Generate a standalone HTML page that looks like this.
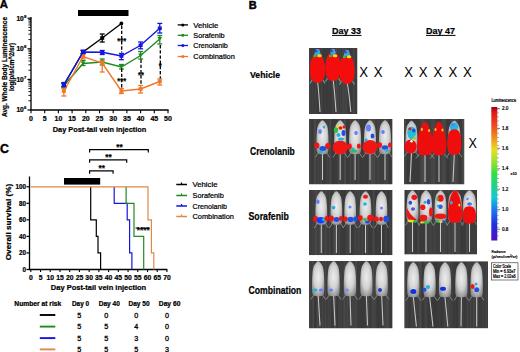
<!DOCTYPE html>
<html><head><meta charset="utf-8"><style>
html,body{margin:0;padding:0;background:#fff;}
svg{display:block;font-family:"Liberation Sans", sans-serif;}
</style></head><body>
<svg width="520" height="352" viewBox="0 0 520 352">
<text x="-0.3" y="8.2" font-size="11.3" font-weight="bold" text-anchor="start" fill="#000" stroke="#000" stroke-width="0.4" >A</text>
<line x1="31" y1="17" x2="31" y2="110" stroke="#000" stroke-width="1.3" />
<line x1="30.4" y1="110" x2="168.6" y2="110" stroke="#000" stroke-width="1.3" />
<line x1="27.5" y1="110.0" x2="31" y2="110.0" stroke="#000" stroke-width="1.2" />
<text x="23.8" y="112.4" font-size="6.6" font-weight="bold" text-anchor="end" fill="#000" stroke="#000" stroke-width="0.22" textLength="7.4" lengthAdjust="spacingAndGlyphs" >10</text>
<text x="24" y="109.4" font-size="4.2" font-weight="bold" text-anchor="start" fill="#000" stroke="#000" stroke-width="0.22" >6</text>
<line x1="28.4" y1="100.78848213268218" x2="31" y2="100.78848213268218" stroke="#000" stroke-width="0.9" />
<line x1="28.4" y1="95.40008960557833" x2="31" y2="95.40008960557833" stroke="#000" stroke-width="0.9" />
<line x1="28.4" y1="91.57696426536435" x2="31" y2="91.57696426536435" stroke="#000" stroke-width="0.9" />
<line x1="28.4" y1="88.61151786731783" x2="31" y2="88.61151786731783" stroke="#000" stroke-width="0.9" />
<line x1="28.4" y1="86.18857173826049" x2="31" y2="86.18857173826049" stroke="#000" stroke-width="0.9" />
<line x1="28.4" y1="84.13999997556374" x2="31" y2="84.13999997556374" stroke="#000" stroke-width="0.9" />
<line x1="28.4" y1="82.36544639804652" x2="31" y2="82.36544639804652" stroke="#000" stroke-width="0.9" />
<line x1="28.4" y1="80.80017921115665" x2="31" y2="80.80017921115665" stroke="#000" stroke-width="0.9" />
<line x1="27.5" y1="79.4" x2="31" y2="79.4" stroke="#000" stroke-width="1.2" />
<text x="23.8" y="81.80000000000001" font-size="6.6" font-weight="bold" text-anchor="end" fill="#000" stroke="#000" stroke-width="0.22" textLength="7.4" lengthAdjust="spacingAndGlyphs" >10</text>
<text x="24" y="78.80000000000001" font-size="4.2" font-weight="bold" text-anchor="start" fill="#000" stroke="#000" stroke-width="0.22" >7</text>
<line x1="28.4" y1="70.18848213268217" x2="31" y2="70.18848213268217" stroke="#000" stroke-width="0.9" />
<line x1="28.4" y1="64.80008960557832" x2="31" y2="64.80008960557832" stroke="#000" stroke-width="0.9" />
<line x1="28.4" y1="60.976964265364344" x2="31" y2="60.976964265364344" stroke="#000" stroke-width="0.9" />
<line x1="28.4" y1="58.01151786731782" x2="31" y2="58.01151786731782" stroke="#000" stroke-width="0.9" />
<line x1="28.4" y1="55.5885717382605" x2="31" y2="55.5885717382605" stroke="#000" stroke-width="0.9" />
<line x1="28.4" y1="53.53999997556374" x2="31" y2="53.53999997556374" stroke="#000" stroke-width="0.9" />
<line x1="28.4" y1="51.76544639804652" x2="31" y2="51.76544639804652" stroke="#000" stroke-width="0.9" />
<line x1="28.4" y1="50.200179211156644" x2="31" y2="50.200179211156644" stroke="#000" stroke-width="0.9" />
<line x1="27.5" y1="48.8" x2="31" y2="48.8" stroke="#000" stroke-width="1.2" />
<text x="23.8" y="51.199999999999996" font-size="6.6" font-weight="bold" text-anchor="end" fill="#000" stroke="#000" stroke-width="0.22" textLength="7.4" lengthAdjust="spacingAndGlyphs" >10</text>
<text x="24" y="48.199999999999996" font-size="4.2" font-weight="bold" text-anchor="start" fill="#000" stroke="#000" stroke-width="0.22" >8</text>
<line x1="28.4" y1="39.588482132682174" x2="31" y2="39.588482132682174" stroke="#000" stroke-width="0.9" />
<line x1="28.4" y1="34.20008960557833" x2="31" y2="34.20008960557833" stroke="#000" stroke-width="0.9" />
<line x1="28.4" y1="30.37696426536435" x2="31" y2="30.37696426536435" stroke="#000" stroke-width="0.9" />
<line x1="28.4" y1="27.411517867317826" x2="31" y2="27.411517867317826" stroke="#000" stroke-width="0.9" />
<line x1="28.4" y1="24.98857173826049" x2="31" y2="24.98857173826049" stroke="#000" stroke-width="0.9" />
<line x1="28.4" y1="22.939999975563737" x2="31" y2="22.939999975563737" stroke="#000" stroke-width="0.9" />
<line x1="28.4" y1="21.165446398046512" x2="31" y2="21.165446398046512" stroke="#000" stroke-width="0.9" />
<line x1="28.4" y1="19.600179211156643" x2="31" y2="19.600179211156643" stroke="#000" stroke-width="0.9" />
<line x1="27.5" y1="18.19999999999999" x2="31" y2="18.19999999999999" stroke="#000" stroke-width="1.2" />
<text x="23.8" y="20.599999999999987" font-size="6.6" font-weight="bold" text-anchor="end" fill="#000" stroke="#000" stroke-width="0.22" textLength="7.4" lengthAdjust="spacingAndGlyphs" >10</text>
<text x="24" y="17.599999999999987" font-size="4.2" font-weight="bold" text-anchor="start" fill="#000" stroke="#000" stroke-width="0.22" >9</text>
<line x1="31.0" y1="110" x2="31.0" y2="113.3" stroke="#000" stroke-width="1.1" />
<text x="31.0" y="120.6" font-size="7" font-weight="bold" text-anchor="middle" fill="#000" stroke="#000" stroke-width="0.22" >0</text>
<line x1="44.7" y1="110" x2="44.7" y2="113.3" stroke="#000" stroke-width="1.1" />
<text x="44.7" y="120.6" font-size="7" font-weight="bold" text-anchor="middle" fill="#000" stroke="#000" stroke-width="0.22" >5</text>
<line x1="58.400000000000006" y1="110" x2="58.400000000000006" y2="113.3" stroke="#000" stroke-width="1.1" />
<text x="58.400000000000006" y="120.6" font-size="7" font-weight="bold" text-anchor="middle" fill="#000" stroke="#000" stroke-width="0.22" >10</text>
<line x1="72.1" y1="110" x2="72.1" y2="113.3" stroke="#000" stroke-width="1.1" />
<text x="72.1" y="120.6" font-size="7" font-weight="bold" text-anchor="middle" fill="#000" stroke="#000" stroke-width="0.22" >15</text>
<line x1="85.80000000000001" y1="110" x2="85.80000000000001" y2="113.3" stroke="#000" stroke-width="1.1" />
<text x="85.80000000000001" y="120.6" font-size="7" font-weight="bold" text-anchor="middle" fill="#000" stroke="#000" stroke-width="0.22" >20</text>
<line x1="99.5" y1="110" x2="99.5" y2="113.3" stroke="#000" stroke-width="1.1" />
<text x="99.5" y="120.6" font-size="7" font-weight="bold" text-anchor="middle" fill="#000" stroke="#000" stroke-width="0.22" >25</text>
<line x1="113.2" y1="110" x2="113.2" y2="113.3" stroke="#000" stroke-width="1.1" />
<text x="113.2" y="120.6" font-size="7" font-weight="bold" text-anchor="middle" fill="#000" stroke="#000" stroke-width="0.22" >30</text>
<line x1="126.9" y1="110" x2="126.9" y2="113.3" stroke="#000" stroke-width="1.1" />
<text x="126.9" y="120.6" font-size="7" font-weight="bold" text-anchor="middle" fill="#000" stroke="#000" stroke-width="0.22" >35</text>
<line x1="140.60000000000002" y1="110" x2="140.60000000000002" y2="113.3" stroke="#000" stroke-width="1.1" />
<text x="140.60000000000002" y="120.6" font-size="7" font-weight="bold" text-anchor="middle" fill="#000" stroke="#000" stroke-width="0.22" >40</text>
<line x1="154.3" y1="110" x2="154.3" y2="113.3" stroke="#000" stroke-width="1.1" />
<text x="154.3" y="120.6" font-size="7" font-weight="bold" text-anchor="middle" fill="#000" stroke="#000" stroke-width="0.22" >45</text>
<line x1="168.0" y1="110" x2="168.0" y2="113.3" stroke="#000" stroke-width="1.1" />
<text x="168.0" y="120.6" font-size="7" font-weight="bold" text-anchor="middle" fill="#000" stroke="#000" stroke-width="0.22" >50</text>
<text x="99.5" y="132" font-size="7.8" font-weight="bold" text-anchor="middle" fill="#000" stroke="#000" stroke-width="0.22" textLength="93.5" lengthAdjust="spacingAndGlyphs" >Day Post-tail vein injection</text>
<g transform="translate(6.8,67) rotate(-90)">
<text x="0" y="0" font-size="6.5" font-weight="bold" text-anchor="middle" fill="#000" stroke="#000" stroke-width="0.22" textLength="100" lengthAdjust="spacingAndGlyphs" >Avg. Whole Body Luminescence</text>
<text x="0" y="7" font-size="6.5" font-weight="bold" text-anchor="middle" fill="#000" stroke="#000" stroke-width="0.22" textLength="48" lengthAdjust="spacingAndGlyphs" >log(p/s/cm^2/sr)</text>
</g>
<rect x="78" y="10" width="50.5" height="6" fill="#000" />
<path d="M63.9,85.0 L83.1,52.0 L102.2,38.0 L121.4,23.5" fill="none" stroke="#000" stroke-width="1.4"/>
<line x1="63.88" y1="83" x2="63.88" y2="87" stroke="#000" stroke-width="1.3" />
<line x1="61.38" y1="83" x2="66.38" y2="83" stroke="#000" stroke-width="1.3" />
<line x1="61.38" y1="87" x2="66.38" y2="87" stroke="#000" stroke-width="1.3" />
<rect x="61.88" y="83.2" width="4" height="3.6" fill="#000"/>
<line x1="83.06" y1="50.5" x2="83.06" y2="53.5" stroke="#000" stroke-width="1.3" />
<line x1="80.56" y1="50.5" x2="85.56" y2="50.5" stroke="#000" stroke-width="1.3" />
<line x1="80.56" y1="53.5" x2="85.56" y2="53.5" stroke="#000" stroke-width="1.3" />
<rect x="81.06" y="50.2" width="4" height="3.6" fill="#000"/>
<line x1="102.24000000000001" y1="34" x2="102.24000000000001" y2="42" stroke="#000" stroke-width="1.3" />
<line x1="99.74000000000001" y1="34" x2="104.74000000000001" y2="34" stroke="#000" stroke-width="1.3" />
<line x1="99.74000000000001" y1="42" x2="104.74000000000001" y2="42" stroke="#000" stroke-width="1.3" />
<rect x="100.24000000000001" y="36.2" width="4" height="3.6" fill="#000"/>
<circle cx="121.4" cy="23.5" r="1.9" fill="#000"/>
<path d="M63.9,85.5 L83.1,63.5 L102.2,62.0 L121.4,67.0 L140.6,55.5 L159.8,39.0" fill="none" stroke="#1f8a1f" stroke-width="1.4"/>
<line x1="63.88" y1="83.5" x2="63.88" y2="87.5" stroke="#1f8a1f" stroke-width="1.3" />
<line x1="61.38" y1="83.5" x2="66.38" y2="83.5" stroke="#1f8a1f" stroke-width="1.3" />
<line x1="61.38" y1="87.5" x2="66.38" y2="87.5" stroke="#1f8a1f" stroke-width="1.3" />
<polygon points="61.480000000000004,83.6 66.28,83.6 63.88,87.2" fill="#1f8a1f"/>
<line x1="83.06" y1="60.5" x2="83.06" y2="65.5" stroke="#1f8a1f" stroke-width="1.3" />
<line x1="80.56" y1="60.5" x2="85.56" y2="60.5" stroke="#1f8a1f" stroke-width="1.3" />
<line x1="80.56" y1="65.5" x2="85.56" y2="65.5" stroke="#1f8a1f" stroke-width="1.3" />
<polygon points="80.66,61.6 85.46000000000001,61.6 83.06,65.2" fill="#1f8a1f"/>
<line x1="102.24000000000001" y1="59" x2="102.24000000000001" y2="65" stroke="#1f8a1f" stroke-width="1.3" />
<line x1="99.74000000000001" y1="59" x2="104.74000000000001" y2="59" stroke="#1f8a1f" stroke-width="1.3" />
<line x1="99.74000000000001" y1="65" x2="104.74000000000001" y2="65" stroke="#1f8a1f" stroke-width="1.3" />
<polygon points="99.84,60.1 104.64000000000001,60.1 102.24000000000001,63.7" fill="#1f8a1f"/>
<line x1="121.42" y1="64.5" x2="121.42" y2="69" stroke="#1f8a1f" stroke-width="1.3" />
<line x1="118.92" y1="64.5" x2="123.92" y2="64.5" stroke="#1f8a1f" stroke-width="1.3" />
<line x1="118.92" y1="69" x2="123.92" y2="69" stroke="#1f8a1f" stroke-width="1.3" />
<polygon points="119.02,65.1 123.82000000000001,65.1 121.42,68.7" fill="#1f8a1f"/>
<line x1="140.60000000000002" y1="51.5" x2="140.60000000000002" y2="59" stroke="#1f8a1f" stroke-width="1.3" />
<line x1="138.10000000000002" y1="51.5" x2="143.10000000000002" y2="51.5" stroke="#1f8a1f" stroke-width="1.3" />
<line x1="138.10000000000002" y1="59" x2="143.10000000000002" y2="59" stroke="#1f8a1f" stroke-width="1.3" />
<polygon points="138.20000000000002,53.6 143.00000000000003,53.6 140.60000000000002,57.2" fill="#1f8a1f"/>
<line x1="159.78" y1="35.5" x2="159.78" y2="44" stroke="#1f8a1f" stroke-width="1.3" />
<line x1="157.28" y1="35.5" x2="162.28" y2="35.5" stroke="#1f8a1f" stroke-width="1.3" />
<line x1="157.28" y1="44" x2="162.28" y2="44" stroke="#1f8a1f" stroke-width="1.3" />
<polygon points="157.38,37.1 162.18,37.1 159.78,40.7" fill="#1f8a1f"/>
<path d="M63.9,91.0 L83.1,56.5 L102.2,63.0 L121.4,91.0 L140.6,89.0 L159.8,81.5" fill="none" stroke="#f07828" stroke-width="1.4"/>
<line x1="63.88" y1="88.5" x2="63.88" y2="96" stroke="#f07828" stroke-width="1.3" />
<line x1="61.38" y1="88.5" x2="66.38" y2="88.5" stroke="#f07828" stroke-width="1.3" />
<line x1="61.38" y1="96" x2="66.38" y2="96" stroke="#f07828" stroke-width="1.3" />
<rect x="61.88" y="89.2" width="4" height="3.6" fill="#f07828"/>
<line x1="83.06" y1="54" x2="83.06" y2="59" stroke="#f07828" stroke-width="1.3" />
<line x1="80.56" y1="54" x2="85.56" y2="54" stroke="#f07828" stroke-width="1.3" />
<line x1="80.56" y1="59" x2="85.56" y2="59" stroke="#f07828" stroke-width="1.3" />
<rect x="81.06" y="54.7" width="4" height="3.6" fill="#f07828"/>
<line x1="102.24000000000001" y1="61" x2="102.24000000000001" y2="72" stroke="#f07828" stroke-width="1.3" />
<line x1="99.74000000000001" y1="61" x2="104.74000000000001" y2="61" stroke="#f07828" stroke-width="1.3" />
<line x1="99.74000000000001" y1="72" x2="104.74000000000001" y2="72" stroke="#f07828" stroke-width="1.3" />
<rect x="100.24000000000001" y="61.2" width="4" height="3.6" fill="#f07828"/>
<line x1="121.42" y1="88.5" x2="121.42" y2="93.5" stroke="#f07828" stroke-width="1.3" />
<line x1="118.92" y1="88.5" x2="123.92" y2="88.5" stroke="#f07828" stroke-width="1.3" />
<line x1="118.92" y1="93.5" x2="123.92" y2="93.5" stroke="#f07828" stroke-width="1.3" />
<rect x="119.42" y="89.2" width="4" height="3.6" fill="#f07828"/>
<line x1="140.60000000000002" y1="85.5" x2="140.60000000000002" y2="93" stroke="#f07828" stroke-width="1.3" />
<line x1="138.10000000000002" y1="85.5" x2="143.10000000000002" y2="85.5" stroke="#f07828" stroke-width="1.3" />
<line x1="138.10000000000002" y1="93" x2="143.10000000000002" y2="93" stroke="#f07828" stroke-width="1.3" />
<rect x="138.60000000000002" y="87.2" width="4" height="3.6" fill="#f07828"/>
<line x1="159.78" y1="79" x2="159.78" y2="85" stroke="#f07828" stroke-width="1.3" />
<line x1="157.28" y1="79" x2="162.28" y2="79" stroke="#f07828" stroke-width="1.3" />
<line x1="157.28" y1="85" x2="162.28" y2="85" stroke="#f07828" stroke-width="1.3" />
<rect x="157.78" y="79.7" width="4" height="3.6" fill="#f07828"/>
<path d="M63.9,84.5 L83.1,52.0 L102.2,52.3 L121.4,56.0 L140.6,45.3 L159.8,28.3" fill="none" stroke="#1515e0" stroke-width="1.4"/>
<line x1="63.88" y1="82.5" x2="63.88" y2="86.5" stroke="#1515e0" stroke-width="1.3" />
<line x1="61.38" y1="82.5" x2="66.38" y2="82.5" stroke="#1515e0" stroke-width="1.3" />
<line x1="61.38" y1="86.5" x2="66.38" y2="86.5" stroke="#1515e0" stroke-width="1.3" />
<rect x="61.88" y="82.7" width="4" height="3.6" fill="#1515e0"/>
<line x1="83.06" y1="50.2" x2="83.06" y2="53.6" stroke="#1515e0" stroke-width="1.3" />
<line x1="80.56" y1="50.2" x2="85.56" y2="50.2" stroke="#1515e0" stroke-width="1.3" />
<line x1="80.56" y1="53.6" x2="85.56" y2="53.6" stroke="#1515e0" stroke-width="1.3" />
<rect x="81.06" y="50.2" width="4" height="3.6" fill="#1515e0"/>
<line x1="102.24000000000001" y1="50.5" x2="102.24000000000001" y2="54.5" stroke="#1515e0" stroke-width="1.3" />
<line x1="99.74000000000001" y1="50.5" x2="104.74000000000001" y2="50.5" stroke="#1515e0" stroke-width="1.3" />
<line x1="99.74000000000001" y1="54.5" x2="104.74000000000001" y2="54.5" stroke="#1515e0" stroke-width="1.3" />
<rect x="100.24000000000001" y="50.5" width="4" height="3.6" fill="#1515e0"/>
<line x1="121.42" y1="53.5" x2="121.42" y2="59.7" stroke="#1515e0" stroke-width="1.3" />
<line x1="118.92" y1="53.5" x2="123.92" y2="53.5" stroke="#1515e0" stroke-width="1.3" />
<line x1="118.92" y1="59.7" x2="123.92" y2="59.7" stroke="#1515e0" stroke-width="1.3" />
<rect x="119.42" y="54.2" width="4" height="3.6" fill="#1515e0"/>
<line x1="140.60000000000002" y1="42" x2="140.60000000000002" y2="48.8" stroke="#1515e0" stroke-width="1.3" />
<line x1="138.10000000000002" y1="42" x2="143.10000000000002" y2="42" stroke="#1515e0" stroke-width="1.3" />
<line x1="138.10000000000002" y1="48.8" x2="143.10000000000002" y2="48.8" stroke="#1515e0" stroke-width="1.3" />
<rect x="138.60000000000002" y="43.5" width="4" height="3.6" fill="#1515e0"/>
<line x1="159.78" y1="23.4" x2="159.78" y2="33" stroke="#1515e0" stroke-width="1.3" />
<line x1="157.28" y1="23.4" x2="162.28" y2="23.4" stroke="#1515e0" stroke-width="1.3" />
<line x1="157.28" y1="33" x2="162.28" y2="33" stroke="#1515e0" stroke-width="1.3" />
<rect x="157.78" y="26.5" width="4" height="3.6" fill="#1515e0"/>
<line x1="121.7" y1="25.5" x2="121.7" y2="52.5" stroke="#000" stroke-width="1.3" stroke-dasharray="3.4,1.8"/>
<text x="121.7" y="43.74" font-size="9" font-weight="bold" text-anchor="middle" fill="#000" stroke="#000" stroke-width="0.22" textLength="8.7" lengthAdjust="spacingAndGlyphs" >***</text>
<line x1="121.7" y1="68.5" x2="121.7" y2="87.5" stroke="#000" stroke-width="1.3" stroke-dasharray="3.4,1.8"/>
<text x="121.7" y="84.14" font-size="9" font-weight="bold" text-anchor="middle" fill="#000" stroke="#000" stroke-width="0.22" textLength="8.7" lengthAdjust="spacingAndGlyphs" >***</text>
<line x1="141" y1="59.5" x2="141" y2="85.5" stroke="#000" stroke-width="1.3" stroke-dasharray="3.4,1.8"/>
<text x="141" y="78.24000000000001" font-size="9" font-weight="bold" text-anchor="middle" fill="#000" stroke="#000" stroke-width="0.22" textLength="5.8" lengthAdjust="spacingAndGlyphs" >**</text>
<line x1="160.3" y1="45" x2="160.3" y2="78.5" stroke="#000" stroke-width="1.3" stroke-dasharray="3.4,1.8"/>
<text x="160.3" y="68.64" font-size="9" font-weight="bold" text-anchor="middle" fill="#000" stroke="#000" stroke-width="0.22" textLength="2.9" lengthAdjust="spacingAndGlyphs" >*</text>
<line x1="177.7" y1="24.9" x2="188" y2="24.9" stroke="#000" stroke-width="1.3" />
<circle cx="182.8" cy="24.9" r="1.5" fill="#000"/>
<text x="193.3" y="27.5" font-size="7.5" font-weight="normal" text-anchor="start" fill="#000" stroke="#000" stroke-width="0.22" textLength="25" lengthAdjust="spacingAndGlyphs" >Vehicle</text>
<line x1="177.7" y1="35.3" x2="188" y2="35.3" stroke="#1f8a1f" stroke-width="1.3" />
<circle cx="182.8" cy="35.3" r="1.5" fill="#1f8a1f"/>
<text x="193.3" y="37.9" font-size="7.5" font-weight="normal" text-anchor="start" fill="#000" stroke="#000" stroke-width="0.22" textLength="31.3" lengthAdjust="spacingAndGlyphs" >Sorafenib</text>
<line x1="177.7" y1="45.5" x2="188" y2="45.5" stroke="#1515e0" stroke-width="1.3" />
<circle cx="182.8" cy="45.5" r="1.5" fill="#1515e0"/>
<text x="193.3" y="48.1" font-size="7.5" font-weight="normal" text-anchor="start" fill="#000" stroke="#000" stroke-width="0.22" textLength="34.5" lengthAdjust="spacingAndGlyphs" >Crenolanib</text>
<line x1="177.7" y1="56.5" x2="188" y2="56.5" stroke="#f07828" stroke-width="1.3" />
<circle cx="182.8" cy="56.5" r="1.5" fill="#f07828"/>
<text x="193.3" y="59.1" font-size="7.5" font-weight="normal" text-anchor="start" fill="#000" stroke="#000" stroke-width="0.22" textLength="41.5" lengthAdjust="spacingAndGlyphs" >Combination</text>
<text x="0" y="153.4" font-size="12.3" font-weight="bold" text-anchor="start" fill="#000" stroke="#000" stroke-width="0.4" >C</text>
<line x1="29.5" y1="176.5" x2="29.5" y2="269.5" stroke="#000" stroke-width="1.3" />
<line x1="28.8" y1="269.5" x2="167.3" y2="269.5" stroke="#000" stroke-width="1.3" />
<line x1="26.5" y1="269.5" x2="29.5" y2="269.5" stroke="#000" stroke-width="1.2" />
<text x="26" y="271.7" font-size="6.3" font-weight="bold" text-anchor="end" fill="#000" stroke="#000" stroke-width="0.22" >0</text>
<line x1="26.5" y1="252.95" x2="29.5" y2="252.95" stroke="#000" stroke-width="1.2" />
<text x="26" y="255.14999999999998" font-size="6.3" font-weight="bold" text-anchor="end" fill="#000" stroke="#000" stroke-width="0.22" >20</text>
<line x1="26.5" y1="236.4" x2="29.5" y2="236.4" stroke="#000" stroke-width="1.2" />
<text x="26" y="238.6" font-size="6.3" font-weight="bold" text-anchor="end" fill="#000" stroke="#000" stroke-width="0.22" >40</text>
<line x1="26.5" y1="219.85" x2="29.5" y2="219.85" stroke="#000" stroke-width="1.2" />
<text x="26" y="222.04999999999998" font-size="6.3" font-weight="bold" text-anchor="end" fill="#000" stroke="#000" stroke-width="0.22" >60</text>
<line x1="26.5" y1="203.3" x2="29.5" y2="203.3" stroke="#000" stroke-width="1.2" />
<text x="26" y="205.5" font-size="6.3" font-weight="bold" text-anchor="end" fill="#000" stroke="#000" stroke-width="0.22" >80</text>
<line x1="26.5" y1="186.75" x2="29.5" y2="186.75" stroke="#000" stroke-width="1.2" />
<text x="26" y="188.95" font-size="6.3" font-weight="bold" text-anchor="end" fill="#000" stroke="#000" stroke-width="0.22" >100</text>
<line x1="30.8" y1="269.5" x2="30.8" y2="272.0" stroke="#000" stroke-width="1.1" />
<text x="30.8" y="279.8" font-size="6.8" font-weight="bold" text-anchor="middle" fill="#000" stroke="#000" stroke-width="0.22" >0</text>
<line x1="40.525" y1="269.5" x2="40.525" y2="272.0" stroke="#000" stroke-width="1.1" />
<text x="40.525" y="279.8" font-size="6.8" font-weight="bold" text-anchor="middle" fill="#000" stroke="#000" stroke-width="0.22" >5</text>
<line x1="50.25" y1="269.5" x2="50.25" y2="272.0" stroke="#000" stroke-width="1.1" />
<text x="50.25" y="279.8" font-size="6.8" font-weight="bold" text-anchor="middle" fill="#000" stroke="#000" stroke-width="0.22" >10</text>
<line x1="59.975" y1="269.5" x2="59.975" y2="272.0" stroke="#000" stroke-width="1.1" />
<text x="59.975" y="279.8" font-size="6.8" font-weight="bold" text-anchor="middle" fill="#000" stroke="#000" stroke-width="0.22" >15</text>
<line x1="69.7" y1="269.5" x2="69.7" y2="272.0" stroke="#000" stroke-width="1.1" />
<text x="69.7" y="279.8" font-size="6.8" font-weight="bold" text-anchor="middle" fill="#000" stroke="#000" stroke-width="0.22" >20</text>
<line x1="79.425" y1="269.5" x2="79.425" y2="272.0" stroke="#000" stroke-width="1.1" />
<text x="79.425" y="279.8" font-size="6.8" font-weight="bold" text-anchor="middle" fill="#000" stroke="#000" stroke-width="0.22" >25</text>
<line x1="89.15" y1="269.5" x2="89.15" y2="272.0" stroke="#000" stroke-width="1.1" />
<text x="89.15" y="279.8" font-size="6.8" font-weight="bold" text-anchor="middle" fill="#000" stroke="#000" stroke-width="0.22" >30</text>
<line x1="98.875" y1="269.5" x2="98.875" y2="272.0" stroke="#000" stroke-width="1.1" />
<text x="98.875" y="279.8" font-size="6.8" font-weight="bold" text-anchor="middle" fill="#000" stroke="#000" stroke-width="0.22" >35</text>
<line x1="108.6" y1="269.5" x2="108.6" y2="272.0" stroke="#000" stroke-width="1.1" />
<text x="108.6" y="279.8" font-size="6.8" font-weight="bold" text-anchor="middle" fill="#000" stroke="#000" stroke-width="0.22" >40</text>
<line x1="118.325" y1="269.5" x2="118.325" y2="272.0" stroke="#000" stroke-width="1.1" />
<text x="118.325" y="279.8" font-size="6.8" font-weight="bold" text-anchor="middle" fill="#000" stroke="#000" stroke-width="0.22" >45</text>
<line x1="128.05" y1="269.5" x2="128.05" y2="272.0" stroke="#000" stroke-width="1.1" />
<text x="128.05" y="279.8" font-size="6.8" font-weight="bold" text-anchor="middle" fill="#000" stroke="#000" stroke-width="0.22" >50</text>
<line x1="137.775" y1="269.5" x2="137.775" y2="272.0" stroke="#000" stroke-width="1.1" />
<text x="137.775" y="279.8" font-size="6.8" font-weight="bold" text-anchor="middle" fill="#000" stroke="#000" stroke-width="0.22" >55</text>
<line x1="147.5" y1="269.5" x2="147.5" y2="272.0" stroke="#000" stroke-width="1.1" />
<text x="147.5" y="279.8" font-size="6.8" font-weight="bold" text-anchor="middle" fill="#000" stroke="#000" stroke-width="0.22" >60</text>
<line x1="157.225" y1="269.5" x2="157.225" y2="272.0" stroke="#000" stroke-width="1.1" />
<text x="157.225" y="279.8" font-size="6.8" font-weight="bold" text-anchor="middle" fill="#000" stroke="#000" stroke-width="0.22" >65</text>
<line x1="166.95000000000002" y1="269.5" x2="166.95000000000002" y2="272.0" stroke="#000" stroke-width="1.1" />
<text x="166.95000000000002" y="279.8" font-size="6.8" font-weight="bold" text-anchor="middle" fill="#000" stroke="#000" stroke-width="0.22" >70</text>
<text x="98.5" y="289.5" font-size="7.5" font-weight="bold" text-anchor="middle" fill="#000" stroke="#000" stroke-width="0.22" textLength="95.4" lengthAdjust="spacingAndGlyphs" >Day Post-tail vein injection</text>
<g transform="translate(11,222) rotate(-90)">
<text x="0" y="0" font-size="7.6" font-weight="bold" text-anchor="middle" fill="#000" stroke="#000" stroke-width="0.22" textLength="76.7" lengthAdjust="spacingAndGlyphs" >Overall survival (%)</text>
</g>
<rect x="64" y="178" width="36.2" height="6.6" fill="#000" />
<path d="M90.7,186.8 L90.7,219.8 L96.3,219.8 L96.3,236.4 L98.0,236.4 L98.0,252.9 L100.6,252.9 L100.6,269.5" fill="none" stroke="#000" stroke-width="1.2"/>
<path d="M114.2,186.8 L114.2,203.3 L127.2,203.3 L127.2,219.8 L129.6,219.8 L129.6,252.9 L131.9,252.9 L131.9,269.5" fill="none" stroke="#1515e0" stroke-width="1.2"/>
<path d="M126.1,186.8 L126.1,203.3 L134.0,203.3 L134.0,236.4 L143.7,236.4 L143.7,269.5" fill="none" stroke="#1f8a1f" stroke-width="1.2"/>
<path d="M30.8,186.8 L148.0,186.8 L148.0,219.8 L151.4,219.8 L151.4,252.9 L153.8,252.9 L153.8,269.5" fill="none" stroke="#e0884a" stroke-width="1.2"/>
<line x1="135.5" y1="228" x2="150.8" y2="228" stroke="#000" stroke-width="1.1" stroke-dasharray="3.4,1.8"/>
<text x="143.2" y="233.32" font-size="9.5" font-weight="bold" text-anchor="middle" fill="#000" stroke="#000" stroke-width="0.22" textLength="12.8" lengthAdjust="spacingAndGlyphs" >****</text>
<path d="M89.6,152.6 V149.6 H148.3 V152.6" fill="none" stroke="#000" stroke-width="1.2"/>
<text x="119.4" y="149.92" font-size="9.5" font-weight="bold" text-anchor="middle" fill="#000" stroke="#000" stroke-width="0.22" textLength="6.4" lengthAdjust="spacingAndGlyphs" >**</text>
<path d="M89.6,162.8 V159.8 H126.7 V162.8" fill="none" stroke="#000" stroke-width="1.2"/>
<text x="108.5" y="160.12" font-size="9.5" font-weight="bold" text-anchor="middle" fill="#000" stroke="#000" stroke-width="0.22" textLength="6.4" lengthAdjust="spacingAndGlyphs" >**</text>
<path d="M89.6,173.8 V170.8 H113.1 V173.8" fill="none" stroke="#000" stroke-width="1.2"/>
<text x="101.7" y="170.92" font-size="9.5" font-weight="bold" text-anchor="middle" fill="#000" stroke="#000" stroke-width="0.22" textLength="6.4" lengthAdjust="spacingAndGlyphs" >**</text>
<path d="M176.3,184.5 H181.5 V182.5 V184.5 H187" fill="none" stroke="#000" stroke-width="1.3"/>
<text x="192.5" y="187.1" font-size="7.5" font-weight="normal" text-anchor="start" fill="#000" stroke="#000" stroke-width="0.22" textLength="25" lengthAdjust="spacingAndGlyphs" >Vehicle</text>
<path d="M176.3,195.5 H181.5 V193.5 V195.5 H187" fill="none" stroke="#1f8a1f" stroke-width="1.3"/>
<text x="192.5" y="198.1" font-size="7.5" font-weight="normal" text-anchor="start" fill="#000" stroke="#000" stroke-width="0.22" textLength="31.3" lengthAdjust="spacingAndGlyphs" >Sorafenib</text>
<path d="M176.3,206 H181.5 V204 V206 H187" fill="none" stroke="#1515e0" stroke-width="1.3"/>
<text x="192.5" y="208.6" font-size="7.5" font-weight="normal" text-anchor="start" fill="#000" stroke="#000" stroke-width="0.22" textLength="34.5" lengthAdjust="spacingAndGlyphs" >Crenolanib</text>
<path d="M176.3,216.5 H181.5 V214.5 V216.5 H187" fill="none" stroke="#e0884a" stroke-width="1.3"/>
<text x="192.5" y="219.1" font-size="7.5" font-weight="normal" text-anchor="start" fill="#000" stroke="#000" stroke-width="0.22" textLength="41.4" lengthAdjust="spacingAndGlyphs" >Combination</text>
<text x="14.3" y="306.3" font-size="6.5" font-weight="bold" text-anchor="start" fill="#000" stroke="#000" stroke-width="0.22" textLength="47" lengthAdjust="spacingAndGlyphs" >Number at risk</text>
<text x="72" y="305.9" font-size="6.5" font-weight="bold" text-anchor="start" fill="#000" stroke="#000" stroke-width="0.22" textLength="17.099999999999994" lengthAdjust="spacingAndGlyphs" >Day 0</text>
<text x="98.7" y="305.9" font-size="6.5" font-weight="bold" text-anchor="start" fill="#000" stroke="#000" stroke-width="0.22" textLength="21.099999999999994" lengthAdjust="spacingAndGlyphs" >Day 40</text>
<text x="128.5" y="305.9" font-size="6.5" font-weight="bold" text-anchor="start" fill="#000" stroke="#000" stroke-width="0.22" textLength="21.099999999999994" lengthAdjust="spacingAndGlyphs" >Day 50</text>
<text x="158.8" y="305.9" font-size="6.5" font-weight="bold" text-anchor="start" fill="#000" stroke="#000" stroke-width="0.22" textLength="21.599999999999994" lengthAdjust="spacingAndGlyphs" >Day 60</text>
<line x1="39.8" y1="315" x2="55.3" y2="315" stroke="#000" stroke-width="1.9" />
<text x="79.2" y="317.6" font-size="7.2" font-weight="normal" text-anchor="middle" fill="#000" stroke="#000" stroke-width="0.3" >5</text>
<text x="106.3" y="317.6" font-size="7.2" font-weight="normal" text-anchor="middle" fill="#000" stroke="#000" stroke-width="0.3" >0</text>
<text x="136.2" y="317.6" font-size="7.2" font-weight="normal" text-anchor="middle" fill="#000" stroke="#000" stroke-width="0.3" >0</text>
<text x="166.9" y="317.6" font-size="7.2" font-weight="normal" text-anchor="middle" fill="#000" stroke="#000" stroke-width="0.3" >0</text>
<line x1="39.8" y1="326.6" x2="55.3" y2="326.6" stroke="#1f8a1f" stroke-width="1.9" />
<text x="79.2" y="329.20000000000005" font-size="7.2" font-weight="normal" text-anchor="middle" fill="#000" stroke="#000" stroke-width="0.3" >5</text>
<text x="106.3" y="329.20000000000005" font-size="7.2" font-weight="normal" text-anchor="middle" fill="#000" stroke="#000" stroke-width="0.3" >5</text>
<text x="136.2" y="329.20000000000005" font-size="7.2" font-weight="normal" text-anchor="middle" fill="#000" stroke="#000" stroke-width="0.3" >4</text>
<text x="166.9" y="329.20000000000005" font-size="7.2" font-weight="normal" text-anchor="middle" fill="#000" stroke="#000" stroke-width="0.3" >0</text>
<line x1="39.8" y1="338.1" x2="55.3" y2="338.1" stroke="#1515e0" stroke-width="1.9" />
<text x="79.2" y="340.70000000000005" font-size="7.2" font-weight="normal" text-anchor="middle" fill="#000" stroke="#000" stroke-width="0.3" >5</text>
<text x="106.3" y="340.70000000000005" font-size="7.2" font-weight="normal" text-anchor="middle" fill="#000" stroke="#000" stroke-width="0.3" >5</text>
<text x="136.2" y="340.70000000000005" font-size="7.2" font-weight="normal" text-anchor="middle" fill="#000" stroke="#000" stroke-width="0.3" >3</text>
<text x="166.9" y="340.70000000000005" font-size="7.2" font-weight="normal" text-anchor="middle" fill="#000" stroke="#000" stroke-width="0.3" >0</text>
<line x1="39.8" y1="349.4" x2="55.3" y2="349.4" stroke="#e0884a" stroke-width="1.9" />
<text x="79.2" y="352.0" font-size="7.2" font-weight="normal" text-anchor="middle" fill="#000" stroke="#000" stroke-width="0.3" >5</text>
<text x="106.3" y="352.0" font-size="7.2" font-weight="normal" text-anchor="middle" fill="#000" stroke="#000" stroke-width="0.3" >5</text>
<text x="136.2" y="352.0" font-size="7.2" font-weight="normal" text-anchor="middle" fill="#000" stroke="#000" stroke-width="0.3" >5</text>
<text x="166.9" y="352.0" font-size="7.2" font-weight="normal" text-anchor="middle" fill="#000" stroke="#000" stroke-width="0.3" >3</text>
<text x="248.8" y="8.6" font-size="11" font-weight="bold" text-anchor="start" fill="#000" stroke="#000" stroke-width="0.5" >B</text>
<text x="332" y="34.3" font-size="9.2" font-weight="bold" text-anchor="start" fill="#000" stroke="#000" stroke-width="0.22" textLength="29" lengthAdjust="spacingAndGlyphs" >Day 33</text>
<text x="426" y="34.3" font-size="9.2" font-weight="bold" text-anchor="start" fill="#000" stroke="#000" stroke-width="0.22" textLength="29" lengthAdjust="spacingAndGlyphs" >Day 47</text>
<line x1="332" y1="35.4" x2="361.5" y2="35.4" stroke="#000" stroke-width="1" />
<line x1="426" y1="35.4" x2="455.5" y2="35.4" stroke="#000" stroke-width="1" />
<text x="250" y="78" font-size="9.8" font-weight="bold" text-anchor="start" fill="#000" stroke="#000" stroke-width="0.22" textLength="30" lengthAdjust="spacingAndGlyphs" >Vehicle</text>
<text x="250" y="155" font-size="10" font-weight="bold" text-anchor="start" fill="#000" stroke="#000" stroke-width="0.22" textLength="44.8" lengthAdjust="spacingAndGlyphs" >Crenolanib</text>
<text x="248.5" y="220.2" font-size="10" font-weight="bold" text-anchor="start" fill="#000" stroke="#000" stroke-width="0.22" textLength="40.3" lengthAdjust="spacingAndGlyphs" >Sorafenib</text>
<text x="248.6" y="294" font-size="10" font-weight="bold" text-anchor="start" fill="#000" stroke="#000" stroke-width="0.22" textLength="52.8" lengthAdjust="spacingAndGlyphs" >Combination</text>
<text x="363.59999999999997" y="77.2" font-size="15.5" font-weight="normal" text-anchor="middle" fill="#000" stroke="#000" stroke-width="0" textLength="8.8" lengthAdjust="spacingAndGlyphs" >X</text>
<text x="378.2" y="77.2" font-size="15.5" font-weight="normal" text-anchor="middle" fill="#000" stroke="#000" stroke-width="0" textLength="8.8" lengthAdjust="spacingAndGlyphs" >X</text>
<text x="408.59999999999997" y="77.2" font-size="15.5" font-weight="normal" text-anchor="middle" fill="#000" stroke="#000" stroke-width="0" textLength="8.8" lengthAdjust="spacingAndGlyphs" >X</text>
<text x="423.2" y="77.2" font-size="15.5" font-weight="normal" text-anchor="middle" fill="#000" stroke="#000" stroke-width="0" textLength="8.8" lengthAdjust="spacingAndGlyphs" >X</text>
<text x="437.9" y="77.2" font-size="15.5" font-weight="normal" text-anchor="middle" fill="#000" stroke="#000" stroke-width="0" textLength="8.8" lengthAdjust="spacingAndGlyphs" >X</text>
<text x="452.9" y="77.2" font-size="15.5" font-weight="normal" text-anchor="middle" fill="#000" stroke="#000" stroke-width="0" textLength="8.8" lengthAdjust="spacingAndGlyphs" >X</text>
<text x="467.4" y="77.2" font-size="15.5" font-weight="normal" text-anchor="middle" fill="#000" stroke="#000" stroke-width="0" textLength="8.8" lengthAdjust="spacingAndGlyphs" >X</text>
<text x="472.6" y="148" font-size="15.5" font-weight="normal" text-anchor="middle" fill="#000" stroke="#000" stroke-width="0" textLength="8.4" lengthAdjust="spacingAndGlyphs" >X</text>
<defs><radialGradient id="mb" cx="0.5" cy="0.45" r="0.6"><stop offset="0" stop-color="#ececec"/><stop offset="0.55" stop-color="#d2d2d2"/><stop offset="1" stop-color="#8c8c8c"/></radialGradient><filter id="bl" x="-50%" y="-50%" width="200%" height="200%"><feGaussianBlur stdDeviation="0.55"/></filter><filter id="bl2" x="-50%" y="-50%" width="200%" height="200%"><feGaussianBlur stdDeviation="0.45"/></filter></defs>
<clipPath id="cp1"><rect x="309" y="48" width="48.5" height="66"/></clipPath><g clip-path="url(#cp1)">
<rect x="309" y="48" width="48.5" height="66" fill="#3c3c3c" />
<line x1="310.0" y1="48" x2="310.0" y2="114" stroke="#ffffff" stroke-opacity="0.07" stroke-width="1"/>
<line x1="312.3" y1="48" x2="312.3" y2="114" stroke="#ffffff" stroke-opacity="0.03" stroke-width="1"/>
<line x1="315.4" y1="48" x2="315.4" y2="114" stroke="#ffffff" stroke-opacity="0.03" stroke-width="1.5"/>
<line x1="318.1" y1="48" x2="318.1" y2="114" stroke="#000000" stroke-opacity="0.06" stroke-width="1"/>
<line x1="319.7" y1="48" x2="319.7" y2="114" stroke="#000000" stroke-opacity="0.04" stroke-width="1.5"/>
<line x1="321.3" y1="48" x2="321.3" y2="114" stroke="#ffffff" stroke-opacity="0.03" stroke-width="2"/>
<line x1="323.7" y1="48" x2="323.7" y2="114" stroke="#000000" stroke-opacity="0.06" stroke-width="1"/>
<line x1="327.1" y1="48" x2="327.1" y2="114" stroke="#000000" stroke-opacity="0.06" stroke-width="1"/>
<line x1="329.7" y1="48" x2="329.7" y2="114" stroke="#000000" stroke-opacity="0.04" stroke-width="1"/>
<line x1="333.2" y1="48" x2="333.2" y2="114" stroke="#ffffff" stroke-opacity="0.03" stroke-width="2"/>
<line x1="336.4" y1="48" x2="336.4" y2="114" stroke="#ffffff" stroke-opacity="0.07" stroke-width="1.5"/>
<line x1="338.2" y1="48" x2="338.2" y2="114" stroke="#ffffff" stroke-opacity="0.03" stroke-width="2"/>
<line x1="340.3" y1="48" x2="340.3" y2="114" stroke="#ffffff" stroke-opacity="0.05" stroke-width="1"/>
<line x1="342.9" y1="48" x2="342.9" y2="114" stroke="#ffffff" stroke-opacity="0.05" stroke-width="1.5"/>
<line x1="344.6" y1="48" x2="344.6" y2="114" stroke="#ffffff" stroke-opacity="0.03" stroke-width="2"/>
<line x1="346.3" y1="48" x2="346.3" y2="114" stroke="#ffffff" stroke-opacity="0.05" stroke-width="1.5"/>
<line x1="349.1" y1="48" x2="349.1" y2="114" stroke="#000000" stroke-opacity="0.04" stroke-width="1.5"/>
<line x1="351.6" y1="48" x2="351.6" y2="114" stroke="#000000" stroke-opacity="0.04" stroke-width="1.5"/>
<line x1="353.7" y1="48" x2="353.7" y2="114" stroke="#ffffff" stroke-opacity="0.05" stroke-width="2"/>
<path d="M317.5,80.5 Q318.75,90.25 320,112" stroke="#c8c8c8" stroke-width="1.05" fill="none"/>
<path d="M312.5,79.5 L310.0,83.5 M322.5,79.5 L325.0,83.5" stroke="#5aa0b0" stroke-width="1.2" fill="none"/>
<path d="M316.0,49 L319.0,49 L322.0,58 L313.0,58 Z" fill="#8890a0" filter="url(#bl2)"/>
<path d="M319.38,55.00 C320.46,55.27 321.36,55.64 322.15,56.65 C322.94,57.66 323.62,59.12 324.10,61.05 C324.58,62.97 324.90,65.82 325.00,68.20 C325.10,70.58 325.05,73.29 324.70,75.35 C324.35,77.41 323.72,79.38 322.90,80.58 C322.07,81.77 321.02,82.18 319.75,82.50 C318.48,82.82 316.52,82.82 315.25,82.50 C313.98,82.18 312.93,81.77 312.10,80.58 C311.28,79.38 310.65,77.41 310.30,75.35 C309.95,73.29 309.90,70.58 310.00,68.20 C310.10,65.82 310.42,62.97 310.90,61.05 C311.38,59.12 312.06,57.66 312.85,56.65 C313.64,55.64 314.54,55.27 315.62,55.00 C316.71,54.73 318.29,54.73 319.38,55.00 Z" fill="#f41010" filter="url(#bl2)"/>
<ellipse cx="317.5" cy="52.5" rx="2.3" ry="2.8" fill="#20b0e0" filter="url(#bl)"/>
<ellipse cx="316.0" cy="51" rx="1.3" ry="1.6" fill="#2050e0" filter="url(#bl)"/>
<ellipse cx="319.5" cy="55.8" rx="2.3" ry="1.5" fill="#e8e020" filter="url(#bl)"/>
<ellipse cx="315.0" cy="56" rx="1.6" ry="1.3" fill="#30c040" filter="url(#bl)"/>
<ellipse cx="318.5" cy="50.2" rx="1" ry="1" fill="#6080ff" filter="url(#bl)"/>
<path d="M333,78.5 Q334.5,89.25 336,112" stroke="#c8c8c8" stroke-width="1.05" fill="none"/>
<path d="M328,77.5 L325.5,81.5 M338,77.5 L340.5,81.5" stroke="#5aa0b0" stroke-width="1.2" fill="none"/>
<path d="M331.5,49 L334.5,49 L337.5,58 L328.5,58 Z" fill="#8890a0" filter="url(#bl2)"/>
<path d="M334.88,53.00 C335.96,53.27 336.86,53.64 337.65,54.65 C338.44,55.66 339.12,57.12 339.60,59.05 C340.08,60.97 340.40,63.82 340.50,66.20 C340.60,68.58 340.55,71.29 340.20,73.35 C339.85,75.41 339.22,77.38 338.40,78.58 C337.57,79.77 336.52,80.18 335.25,80.50 C333.98,80.82 332.02,80.82 330.75,80.50 C329.48,80.18 328.43,79.77 327.60,78.58 C326.78,77.38 326.15,75.41 325.80,73.35 C325.45,71.29 325.40,68.58 325.50,66.20 C325.60,63.82 325.92,60.97 326.40,59.05 C326.88,57.12 327.56,55.66 328.35,54.65 C329.14,53.64 330.04,53.27 331.12,53.00 C332.21,52.73 333.79,52.73 334.88,53.00 Z" fill="#f41010" filter="url(#bl2)"/>
<ellipse cx="333" cy="52.5" rx="2.3" ry="2.8" fill="#20b0e0" filter="url(#bl)"/>
<ellipse cx="331.5" cy="51" rx="1.3" ry="1.6" fill="#2050e0" filter="url(#bl)"/>
<ellipse cx="335" cy="55.8" rx="2.3" ry="1.5" fill="#e8e020" filter="url(#bl)"/>
<ellipse cx="330.5" cy="56" rx="1.6" ry="1.3" fill="#30c040" filter="url(#bl)"/>
<ellipse cx="334" cy="50.2" rx="1" ry="1" fill="#6080ff" filter="url(#bl)"/>
<path d="M347,81.5 Q348.9,90.75 350.8,112" stroke="#c8c8c8" stroke-width="1.05" fill="none"/>
<path d="M342,80.5 L339.5,84.5 M352,80.5 L354.5,84.5" stroke="#5aa0b0" stroke-width="1.2" fill="none"/>
<path d="M345.5,50 L348.5,50 L351.5,59 L342.5,59 Z" fill="#8890a0" filter="url(#bl2)"/>
<path d="M348.88,56.00 C349.96,56.27 350.86,56.64 351.65,57.65 C352.44,58.66 353.12,60.12 353.60,62.05 C354.08,63.97 354.40,66.82 354.50,69.20 C354.60,71.58 354.55,74.29 354.20,76.35 C353.85,78.41 353.22,80.38 352.40,81.58 C351.57,82.77 350.52,83.18 349.25,83.50 C347.98,83.82 346.02,83.82 344.75,83.50 C343.48,83.18 342.43,82.77 341.60,81.58 C340.78,80.38 340.15,78.41 339.80,76.35 C339.45,74.29 339.40,71.58 339.50,69.20 C339.60,66.82 339.92,63.97 340.40,62.05 C340.88,60.12 341.56,58.66 342.35,57.65 C343.14,56.64 344.04,56.27 345.12,56.00 C346.21,55.73 347.79,55.73 348.88,56.00 Z" fill="#f41010" filter="url(#bl2)"/>
<ellipse cx="347" cy="53.5" rx="2.3" ry="2.8" fill="#20b0e0" filter="url(#bl)"/>
<ellipse cx="345.5" cy="52" rx="1.3" ry="1.6" fill="#2050e0" filter="url(#bl)"/>
<ellipse cx="349" cy="56.8" rx="2.3" ry="1.5" fill="#e8e020" filter="url(#bl)"/>
<ellipse cx="344.5" cy="57" rx="1.6" ry="1.3" fill="#30c040" filter="url(#bl)"/>
<ellipse cx="348" cy="51.2" rx="1" ry="1" fill="#6080ff" filter="url(#bl)"/>
</g>
<clipPath id="cp2"><rect x="309" y="119" width="83.6" height="65.5"/></clipPath><g clip-path="url(#cp2)">
<rect x="309" y="119" width="83.6" height="65.5" fill="#3c3c3c" />
<line x1="310.0" y1="119" x2="310.0" y2="184.5" stroke="#ffffff" stroke-opacity="0.03" stroke-width="2"/>
<line x1="312.1" y1="119" x2="312.1" y2="184.5" stroke="#000000" stroke-opacity="0.04" stroke-width="1.5"/>
<line x1="315.1" y1="119" x2="315.1" y2="184.5" stroke="#ffffff" stroke-opacity="0.07" stroke-width="2"/>
<line x1="318.5" y1="119" x2="318.5" y2="184.5" stroke="#ffffff" stroke-opacity="0.03" stroke-width="2"/>
<line x1="320.9" y1="119" x2="320.9" y2="184.5" stroke="#ffffff" stroke-opacity="0.07" stroke-width="1"/>
<line x1="324.2" y1="119" x2="324.2" y2="184.5" stroke="#000000" stroke-opacity="0.04" stroke-width="1"/>
<line x1="327.6" y1="119" x2="327.6" y2="184.5" stroke="#ffffff" stroke-opacity="0.03" stroke-width="2"/>
<line x1="330.3" y1="119" x2="330.3" y2="184.5" stroke="#ffffff" stroke-opacity="0.07" stroke-width="1.5"/>
<line x1="333.2" y1="119" x2="333.2" y2="184.5" stroke="#000000" stroke-opacity="0.06" stroke-width="1.5"/>
<line x1="335.8" y1="119" x2="335.8" y2="184.5" stroke="#000000" stroke-opacity="0.04" stroke-width="1"/>
<line x1="339.0" y1="119" x2="339.0" y2="184.5" stroke="#ffffff" stroke-opacity="0.07" stroke-width="1.5"/>
<line x1="341.9" y1="119" x2="341.9" y2="184.5" stroke="#ffffff" stroke-opacity="0.03" stroke-width="1"/>
<line x1="344.9" y1="119" x2="344.9" y2="184.5" stroke="#ffffff" stroke-opacity="0.07" stroke-width="2"/>
<line x1="347.5" y1="119" x2="347.5" y2="184.5" stroke="#000000" stroke-opacity="0.04" stroke-width="1.5"/>
<line x1="350.5" y1="119" x2="350.5" y2="184.5" stroke="#ffffff" stroke-opacity="0.07" stroke-width="1"/>
<line x1="353.8" y1="119" x2="353.8" y2="184.5" stroke="#ffffff" stroke-opacity="0.07" stroke-width="1"/>
<line x1="356.6" y1="119" x2="356.6" y2="184.5" stroke="#000000" stroke-opacity="0.04" stroke-width="1"/>
<line x1="358.5" y1="119" x2="358.5" y2="184.5" stroke="#ffffff" stroke-opacity="0.07" stroke-width="1"/>
<line x1="361.5" y1="119" x2="361.5" y2="184.5" stroke="#000000" stroke-opacity="0.04" stroke-width="1.5"/>
<line x1="364.8" y1="119" x2="364.8" y2="184.5" stroke="#000000" stroke-opacity="0.04" stroke-width="1"/>
<line x1="366.7" y1="119" x2="366.7" y2="184.5" stroke="#000000" stroke-opacity="0.04" stroke-width="2"/>
<line x1="368.7" y1="119" x2="368.7" y2="184.5" stroke="#ffffff" stroke-opacity="0.05" stroke-width="1.5"/>
<line x1="371.9" y1="119" x2="371.9" y2="184.5" stroke="#ffffff" stroke-opacity="0.07" stroke-width="2"/>
<line x1="374.3" y1="119" x2="374.3" y2="184.5" stroke="#ffffff" stroke-opacity="0.07" stroke-width="2"/>
<line x1="377.5" y1="119" x2="377.5" y2="184.5" stroke="#ffffff" stroke-opacity="0.05" stroke-width="1"/>
<line x1="379.2" y1="119" x2="379.2" y2="184.5" stroke="#ffffff" stroke-opacity="0.05" stroke-width="1"/>
<line x1="382.0" y1="119" x2="382.0" y2="184.5" stroke="#ffffff" stroke-opacity="0.03" stroke-width="1.5"/>
<line x1="385.2" y1="119" x2="385.2" y2="184.5" stroke="#ffffff" stroke-opacity="0.05" stroke-width="1.5"/>
<line x1="387.2" y1="119" x2="387.2" y2="184.5" stroke="#ffffff" stroke-opacity="0.05" stroke-width="1.5"/>
<line x1="389.8" y1="119" x2="389.8" y2="184.5" stroke="#000000" stroke-opacity="0.06" stroke-width="2"/>
<path d="M318.84,152 L315.18,157.5 M326.16,152 L329.82,157.5" stroke="#8a8a8a" stroke-width="0.9" fill="none"/>
<path d="M322.5,154 Q322.5,167.0 322.5,180" stroke="#c8c8c8" stroke-width="1.05" fill="none"/>
<path d="M323.23,120.50 C323.81,120.84 324.55,121.51 325.25,122.51 C325.94,123.52 326.87,124.63 327.38,126.53 C327.89,128.43 328.09,130.88 328.30,133.90 C328.50,136.92 328.65,141.61 328.60,144.62 C328.55,147.63 328.55,150.43 327.99,151.99 C327.43,153.55 326.62,153.66 325.25,154.00 C323.87,154.34 321.13,154.34 319.75,154.00 C318.38,153.66 317.57,153.55 317.01,151.99 C316.45,150.43 316.45,147.63 316.40,144.62 C316.35,141.61 316.50,136.92 316.70,133.90 C316.91,130.88 317.11,128.43 317.62,126.53 C318.13,124.63 319.06,123.52 319.75,122.51 C320.45,121.51 321.19,120.84 321.77,120.50 C322.35,120.16 322.65,120.16 323.23,120.50 Z" fill="url(#mb)" filter="url(#bl2)"/>
<path d="M336.53999999999996,152 L332.88,157.5 M343.86,152 L347.52,157.5" stroke="#8a8a8a" stroke-width="0.9" fill="none"/>
<path d="M340.2,154 Q340.2,167.0 340.2,180" stroke="#c8c8c8" stroke-width="1.05" fill="none"/>
<path d="M340.93,120.50 C341.51,120.84 342.25,121.51 342.94,122.51 C343.64,123.52 344.57,124.63 345.08,126.53 C345.59,128.43 345.79,130.88 346.00,133.90 C346.20,136.92 346.35,141.61 346.30,144.62 C346.25,147.63 346.25,150.43 345.69,151.99 C345.13,153.55 344.32,153.66 342.94,154.00 C341.57,154.34 338.83,154.34 337.45,154.00 C336.08,153.66 335.27,153.55 334.71,151.99 C334.15,150.43 334.15,147.63 334.10,144.62 C334.05,141.61 334.20,136.92 334.40,133.90 C334.61,130.88 334.81,128.43 335.32,126.53 C335.83,124.63 336.76,123.52 337.45,122.51 C338.15,121.51 338.89,120.84 339.47,120.50 C340.05,120.16 340.35,120.16 340.93,120.50 Z" fill="url(#mb)" filter="url(#bl2)"/>
<path d="M351.44,152 L347.78000000000003,157.5 M358.76000000000005,152 L362.42,157.5" stroke="#8a8a8a" stroke-width="0.9" fill="none"/>
<path d="M355.1,154 Q355.1,167.0 355.1,180" stroke="#c8c8c8" stroke-width="1.05" fill="none"/>
<path d="M355.83,120.50 C356.41,120.84 357.15,121.51 357.85,122.51 C358.54,123.52 359.47,124.63 359.98,126.53 C360.49,128.43 360.69,130.88 360.90,133.90 C361.10,136.92 361.25,141.61 361.20,144.62 C361.15,147.63 361.15,150.43 360.59,151.99 C360.03,153.55 359.22,153.66 357.85,154.00 C356.47,154.34 353.73,154.34 352.36,154.00 C350.98,153.66 350.17,153.55 349.61,151.99 C349.05,150.43 349.05,147.63 349.00,144.62 C348.95,141.61 349.10,136.92 349.31,133.90 C349.51,130.88 349.71,128.43 350.22,126.53 C350.73,124.63 351.66,123.52 352.36,122.51 C353.05,121.51 353.79,120.84 354.37,120.50 C354.95,120.16 355.25,120.16 355.83,120.50 Z" fill="url(#mb)" filter="url(#bl2)"/>
<path d="M366.34,152 L362.68,157.5 M373.66,152 L377.32,157.5" stroke="#8a8a8a" stroke-width="0.9" fill="none"/>
<path d="M370,154 Q370.0,167.0 370,180" stroke="#c8c8c8" stroke-width="1.05" fill="none"/>
<path d="M370.73,120.50 C371.31,120.84 372.05,121.51 372.75,122.51 C373.44,123.52 374.37,124.63 374.88,126.53 C375.39,128.43 375.59,130.88 375.80,133.90 C376.00,136.92 376.15,141.61 376.10,144.62 C376.05,147.63 376.05,150.43 375.49,151.99 C374.93,153.55 374.12,153.66 372.75,154.00 C371.37,154.34 368.63,154.34 367.25,154.00 C365.88,153.66 365.07,153.55 364.51,151.99 C363.95,150.43 363.95,147.63 363.90,144.62 C363.85,141.61 364.00,136.92 364.20,133.90 C364.41,130.88 364.61,128.43 365.12,126.53 C365.63,124.63 366.56,123.52 367.25,122.51 C367.95,121.51 368.69,120.84 369.27,120.50 C369.85,120.16 370.15,120.16 370.73,120.50 Z" fill="url(#mb)" filter="url(#bl2)"/>
<path d="M381.34,152 L377.68,157.5 M388.66,152 L392.32,157.5" stroke="#8a8a8a" stroke-width="0.9" fill="none"/>
<path d="M385,154 Q385.0,167.0 385,180" stroke="#c8c8c8" stroke-width="1.05" fill="none"/>
<path d="M385.73,120.50 C386.31,120.84 387.05,121.51 387.75,122.51 C388.44,123.52 389.37,124.63 389.88,126.53 C390.39,128.43 390.59,130.88 390.80,133.90 C391.00,136.92 391.15,141.61 391.10,144.62 C391.05,147.63 391.05,150.43 390.49,151.99 C389.93,153.55 389.12,153.66 387.75,154.00 C386.37,154.34 383.63,154.34 382.25,154.00 C380.88,153.66 380.07,153.55 379.51,151.99 C378.95,150.43 378.95,147.63 378.90,144.62 C378.85,141.61 379.00,136.92 379.20,133.90 C379.41,130.88 379.61,128.43 380.12,126.53 C380.63,124.63 381.56,123.52 382.25,122.51 C382.95,121.51 383.69,120.84 384.27,120.50 C384.85,120.16 385.15,120.16 385.73,120.50 Z" fill="url(#mb)" filter="url(#bl2)"/>
<ellipse cx="320" cy="131.5" rx="1.8" ry="2.5" fill="#6080ff" filter="url(#bl)"/>
<ellipse cx="324" cy="127" rx="1.2" ry="1.5" fill="#20b0e0" filter="url(#bl)"/>
<ellipse cx="316.8" cy="145.5" rx="2.6" ry="3" fill="#f01414" filter="url(#bl)"/>
<ellipse cx="327.8" cy="146" rx="2.6" ry="3" fill="#f01414" filter="url(#bl)"/>
<ellipse cx="322.8" cy="148.5" rx="3.5" ry="2.5" fill="#2050e0" filter="url(#bl)"/>
<ellipse cx="321" cy="151.8" rx="2.2" ry="1.2" fill="#20b0e0" filter="url(#bl)"/>
<ellipse cx="340.2" cy="147.5" rx="7.6" ry="7" fill="#f01414" filter="url(#bl)"/>
<ellipse cx="336" cy="130" rx="2.2" ry="3" fill="#30c040" filter="url(#bl)"/>
<ellipse cx="337.5" cy="126.5" rx="1.5" ry="1.5" fill="#e8e020" filter="url(#bl)"/>
<ellipse cx="340.5" cy="128" rx="2" ry="1.8" fill="#f01414" filter="url(#bl)"/>
<ellipse cx="343.5" cy="133" rx="2" ry="3" fill="#2050e0" filter="url(#bl)"/>
<ellipse cx="338.5" cy="135" rx="2" ry="2" fill="#20b0e0" filter="url(#bl)"/>
<ellipse cx="344" cy="127" rx="1.5" ry="1.5" fill="#f01414" filter="url(#bl)"/>
<ellipse cx="341" cy="139" rx="3" ry="1.5" fill="#20b0e0" filter="url(#bl)"/>
<ellipse cx="349.5" cy="146.5" rx="2.3" ry="3" fill="#f01414" filter="url(#bl)"/>
<ellipse cx="354" cy="151" rx="3" ry="1.5" fill="#30c040" filter="url(#bl)"/>
<ellipse cx="358.8" cy="146" rx="2" ry="2.5" fill="#f01414" filter="url(#bl)"/>
<ellipse cx="356" cy="133" rx="1.8" ry="2" fill="#6080ff" filter="url(#bl)"/>
<ellipse cx="353" cy="149" rx="1.5" ry="1.5" fill="#20b0e0" filter="url(#bl)"/>
<ellipse cx="370" cy="147" rx="7.6" ry="7" fill="#f01414" filter="url(#bl)"/>
<ellipse cx="368.5" cy="128" rx="2.5" ry="3.5" fill="#6080ff" filter="url(#bl)"/>
<ellipse cx="372.5" cy="136" rx="2" ry="2.5" fill="#2050e0" filter="url(#bl)"/>
<ellipse cx="366" cy="140" rx="1.5" ry="1.5" fill="#20b0e0" filter="url(#bl)"/>
<ellipse cx="379.5" cy="145" rx="2.5" ry="2.8" fill="#f01414" filter="url(#bl)"/>
<ellipse cx="390" cy="145" rx="2" ry="2.5" fill="#f01414" filter="url(#bl)"/>
<ellipse cx="385" cy="147.5" rx="3.2" ry="2.2" fill="#2050e0" filter="url(#bl)"/>
<ellipse cx="383" cy="132" rx="1.8" ry="2" fill="#6080ff" filter="url(#bl)"/>
<ellipse cx="386.5" cy="150.5" rx="2" ry="1.2" fill="#20b0e0" filter="url(#bl)"/>
</g>
<clipPath id="cp3"><rect x="404" y="119" width="60.5" height="65.5"/></clipPath><g clip-path="url(#cp3)">
<rect x="404" y="119" width="60.5" height="65.5" fill="#3c3c3c" />
<line x1="405.0" y1="119" x2="405.0" y2="184.5" stroke="#ffffff" stroke-opacity="0.05" stroke-width="2"/>
<line x1="408.2" y1="119" x2="408.2" y2="184.5" stroke="#000000" stroke-opacity="0.06" stroke-width="2"/>
<line x1="411.1" y1="119" x2="411.1" y2="184.5" stroke="#ffffff" stroke-opacity="0.03" stroke-width="1.5"/>
<line x1="414.4" y1="119" x2="414.4" y2="184.5" stroke="#000000" stroke-opacity="0.06" stroke-width="1.5"/>
<line x1="416.7" y1="119" x2="416.7" y2="184.5" stroke="#000000" stroke-opacity="0.04" stroke-width="1"/>
<line x1="419.1" y1="119" x2="419.1" y2="184.5" stroke="#000000" stroke-opacity="0.04" stroke-width="1"/>
<line x1="421.0" y1="119" x2="421.0" y2="184.5" stroke="#ffffff" stroke-opacity="0.05" stroke-width="1.5"/>
<line x1="422.8" y1="119" x2="422.8" y2="184.5" stroke="#ffffff" stroke-opacity="0.07" stroke-width="2"/>
<line x1="424.4" y1="119" x2="424.4" y2="184.5" stroke="#ffffff" stroke-opacity="0.03" stroke-width="2"/>
<line x1="426.2" y1="119" x2="426.2" y2="184.5" stroke="#ffffff" stroke-opacity="0.03" stroke-width="1.5"/>
<line x1="429.0" y1="119" x2="429.0" y2="184.5" stroke="#ffffff" stroke-opacity="0.03" stroke-width="1"/>
<line x1="431.7" y1="119" x2="431.7" y2="184.5" stroke="#ffffff" stroke-opacity="0.05" stroke-width="2"/>
<line x1="433.7" y1="119" x2="433.7" y2="184.5" stroke="#ffffff" stroke-opacity="0.07" stroke-width="2"/>
<line x1="435.9" y1="119" x2="435.9" y2="184.5" stroke="#ffffff" stroke-opacity="0.03" stroke-width="1"/>
<line x1="439.1" y1="119" x2="439.1" y2="184.5" stroke="#000000" stroke-opacity="0.04" stroke-width="1.5"/>
<line x1="441.6" y1="119" x2="441.6" y2="184.5" stroke="#ffffff" stroke-opacity="0.03" stroke-width="1"/>
<line x1="443.3" y1="119" x2="443.3" y2="184.5" stroke="#ffffff" stroke-opacity="0.07" stroke-width="2"/>
<line x1="445.3" y1="119" x2="445.3" y2="184.5" stroke="#ffffff" stroke-opacity="0.05" stroke-width="2"/>
<line x1="446.9" y1="119" x2="446.9" y2="184.5" stroke="#000000" stroke-opacity="0.06" stroke-width="1.5"/>
<line x1="448.7" y1="119" x2="448.7" y2="184.5" stroke="#000000" stroke-opacity="0.06" stroke-width="1"/>
<line x1="451.7" y1="119" x2="451.7" y2="184.5" stroke="#ffffff" stroke-opacity="0.07" stroke-width="2"/>
<line x1="454.9" y1="119" x2="454.9" y2="184.5" stroke="#ffffff" stroke-opacity="0.07" stroke-width="2"/>
<line x1="457.1" y1="119" x2="457.1" y2="184.5" stroke="#ffffff" stroke-opacity="0.05" stroke-width="1.5"/>
<line x1="460.2" y1="119" x2="460.2" y2="184.5" stroke="#000000" stroke-opacity="0.06" stroke-width="2"/>
<line x1="463.2" y1="119" x2="463.2" y2="184.5" stroke="#ffffff" stroke-opacity="0.07" stroke-width="2"/>
<path d="M407.9,151 L404.3,156.5 M415.1,151 L418.7,156.5" stroke="#8a8a8a" stroke-width="0.9" fill="none"/>
<path d="M411.5,153 Q410.75,167.5 410,182" stroke="#c8c8c8" stroke-width="1.05" fill="none"/>
<path d="M412.22,121.00 C412.79,121.32 413.52,121.96 414.20,122.92 C414.88,123.88 415.80,124.95 416.30,126.76 C416.80,128.57 417.00,130.92 417.20,133.80 C417.40,136.68 417.55,141.16 417.50,144.04 C417.45,146.92 417.45,149.59 416.90,151.08 C416.35,152.57 415.55,152.68 414.20,153.00 C412.85,153.32 410.15,153.32 408.80,153.00 C407.45,152.68 406.65,152.57 406.10,151.08 C405.55,149.59 405.55,146.92 405.50,144.04 C405.45,141.16 405.60,136.68 405.80,133.80 C406.00,130.92 406.20,128.57 406.70,126.76 C407.20,124.95 408.12,123.88 408.80,122.92 C409.48,121.96 410.21,121.32 410.78,121.00 C411.35,120.68 411.65,120.68 412.22,121.00 Z" fill="url(#mb)" filter="url(#bl2)"/>
<ellipse cx="411.7" cy="133" rx="4.3" ry="6.5" fill="#20c0d8" filter="url(#bl)"/>
<ellipse cx="413.8" cy="130.5" rx="1.8" ry="2" fill="#2050e0" filter="url(#bl)"/>
<ellipse cx="409.8" cy="128.8" rx="1.5" ry="1.5" fill="#f01414" filter="url(#bl)"/>
<ellipse cx="414.4" cy="137.9" rx="2" ry="1.5" fill="#a0d020" filter="url(#bl)"/>
<ellipse cx="410.6" cy="146.5" rx="6" ry="7" fill="#f01010" filter="url(#bl)"/>
<ellipse cx="411.5" cy="141.3" rx="1.3" ry="1.3" fill="#ffffff" filter="url(#bl)"/>
<path d="M420.35,153 L415.7,158.5 M429.65,153 L434.3,158.5" stroke="#8a8a8a" stroke-width="0.9" fill="none"/>
<path d="M425,155 Q425.0,168.5 425,182" stroke="#c8c8c8" stroke-width="1.05" fill="none"/>
<path d="M426.16,122.50 C426.87,122.93 427.39,123.75 428.10,125.10 C428.81,126.45 429.75,128.35 430.43,130.62 C431.10,132.90 431.74,136.20 432.13,138.75 C432.52,141.30 432.84,143.62 432.75,145.90 C432.66,148.18 432.36,150.88 431.59,152.40 C430.81,153.92 429.71,154.57 428.10,155.00 C426.49,155.43 423.51,155.43 421.90,155.00 C420.29,154.57 419.19,153.92 418.41,152.40 C417.64,150.88 417.34,148.18 417.25,145.90 C417.16,143.62 417.48,141.30 417.87,138.75 C418.26,136.20 418.90,132.90 419.57,130.62 C420.25,128.35 421.19,126.45 421.90,125.10 C422.61,123.75 423.13,122.93 423.84,122.50 C424.55,122.07 425.45,122.07 426.16,122.50 Z" fill="#ee1010" filter="url(#bl2)"/>
<path d="M434.56,153 L430.12,158.5 M443.44,153 L447.88,158.5" stroke="#8a8a8a" stroke-width="0.9" fill="none"/>
<path d="M439,155 Q439.0,168.5 439,182" stroke="#c8c8c8" stroke-width="1.05" fill="none"/>
<path d="M440.11,122.00 C440.79,122.44 441.28,123.27 441.96,124.64 C442.64,126.02 443.54,127.94 444.18,130.25 C444.82,132.56 445.44,135.91 445.81,138.50 C446.18,141.09 446.49,143.45 446.40,145.76 C446.31,148.07 446.03,150.82 445.29,152.36 C444.55,153.90 443.50,154.56 441.96,155.00 C440.42,155.44 437.58,155.44 436.04,155.00 C434.50,154.56 433.45,153.90 432.71,152.36 C431.97,150.82 431.69,148.07 431.60,145.76 C431.51,143.45 431.82,141.09 432.19,138.50 C432.56,135.91 433.18,132.56 433.82,130.25 C434.46,127.94 435.36,126.02 436.04,124.64 C436.72,123.27 437.21,122.44 437.89,122.00 C438.57,121.56 439.43,121.56 440.11,122.00 Z" fill="#ee1010" filter="url(#bl2)"/>
<path d="M450.52000000000004,151.5 L446.74,157.0 M458.08,151.5 L461.86,157.0" stroke="#8a8a8a" stroke-width="0.9" fill="none"/>
<path d="M454.3,153.5 Q453.65,167.75 453,182" stroke="#c8c8c8" stroke-width="1.05" fill="none"/>
<path d="M455.06,121.00 C455.65,121.33 456.42,121.98 457.13,122.95 C457.85,123.92 458.82,125.01 459.34,126.85 C459.87,128.69 460.08,131.07 460.29,134.00 C460.50,136.93 460.65,141.47 460.60,144.40 C460.55,147.33 460.55,150.03 459.97,151.55 C459.39,153.07 458.55,153.18 457.13,153.50 C455.72,153.82 452.88,153.82 451.47,153.50 C450.05,153.18 449.21,153.07 448.63,151.55 C448.05,150.03 448.05,147.33 448.00,144.40 C447.95,141.47 448.11,136.93 448.31,134.00 C448.52,131.07 448.74,128.69 449.26,126.85 C449.78,125.01 450.75,123.92 451.47,122.95 C452.18,121.98 452.95,121.33 453.54,121.00 C454.14,120.67 454.46,120.67 455.06,121.00 Z" fill="url(#mb)" filter="url(#bl2)"/>
<ellipse cx="454" cy="127" rx="4.2" ry="4.5" fill="#20b8e0" filter="url(#bl)"/>
<ellipse cx="453" cy="125" rx="1.8" ry="1.8" fill="#6080ff" filter="url(#bl)"/>
<ellipse cx="456.5" cy="131" rx="2.2" ry="1.3" fill="#c0d030" filter="url(#bl)"/>
<path d="M456.05,129.50 C457.06,129.75 457.90,130.08 458.64,131.00 C459.38,131.92 460.02,133.25 460.46,135.00 C460.90,136.75 461.21,139.33 461.30,141.50 C461.39,143.67 461.35,146.12 461.02,148.00 C460.69,149.88 460.11,151.67 459.34,152.75 C458.57,153.83 457.59,154.21 456.40,154.50 C455.21,154.79 453.39,154.79 452.20,154.50 C451.01,154.21 450.03,153.83 449.26,152.75 C448.49,151.67 447.91,149.88 447.58,148.00 C447.25,146.12 447.21,143.67 447.30,141.50 C447.39,139.33 447.70,136.75 448.14,135.00 C448.58,133.25 449.23,131.92 449.96,131.00 C450.70,130.08 451.54,129.75 452.55,129.50 C453.56,129.25 455.04,129.25 456.05,129.50 Z" fill="#f01010" filter="url(#bl2)"/>
<ellipse cx="421.8" cy="129.4" rx="1" ry="1.6" fill="#d8d040" filter="url(#bl)"/>
<ellipse cx="429" cy="130.5" rx="1" ry="1.6" fill="#d8d040" filter="url(#bl)"/>
<ellipse cx="435.5" cy="129.5" rx="1" ry="1.6" fill="#d8d040" filter="url(#bl)"/>
<ellipse cx="442.5" cy="130" rx="1" ry="1.6" fill="#d8d040" filter="url(#bl)"/>
</g>
<clipPath id="cp4"><rect x="309" y="190" width="83.6" height="65.2"/></clipPath><g clip-path="url(#cp4)">
<rect x="309" y="190" width="83.6" height="65.2" fill="#3c3c3c" />
<line x1="310.0" y1="190" x2="310.0" y2="255.2" stroke="#ffffff" stroke-opacity="0.05" stroke-width="1"/>
<line x1="313.1" y1="190" x2="313.1" y2="255.2" stroke="#ffffff" stroke-opacity="0.05" stroke-width="1"/>
<line x1="315.7" y1="190" x2="315.7" y2="255.2" stroke="#ffffff" stroke-opacity="0.07" stroke-width="2"/>
<line x1="317.2" y1="190" x2="317.2" y2="255.2" stroke="#ffffff" stroke-opacity="0.03" stroke-width="1.5"/>
<line x1="319.7" y1="190" x2="319.7" y2="255.2" stroke="#ffffff" stroke-opacity="0.05" stroke-width="2"/>
<line x1="322.4" y1="190" x2="322.4" y2="255.2" stroke="#ffffff" stroke-opacity="0.07" stroke-width="1.5"/>
<line x1="325.5" y1="190" x2="325.5" y2="255.2" stroke="#ffffff" stroke-opacity="0.07" stroke-width="1.5"/>
<line x1="327.2" y1="190" x2="327.2" y2="255.2" stroke="#ffffff" stroke-opacity="0.03" stroke-width="1"/>
<line x1="329.6" y1="190" x2="329.6" y2="255.2" stroke="#ffffff" stroke-opacity="0.07" stroke-width="1"/>
<line x1="332.1" y1="190" x2="332.1" y2="255.2" stroke="#000000" stroke-opacity="0.06" stroke-width="1"/>
<line x1="334.5" y1="190" x2="334.5" y2="255.2" stroke="#ffffff" stroke-opacity="0.07" stroke-width="2"/>
<line x1="336.2" y1="190" x2="336.2" y2="255.2" stroke="#ffffff" stroke-opacity="0.03" stroke-width="1.5"/>
<line x1="339.3" y1="190" x2="339.3" y2="255.2" stroke="#ffffff" stroke-opacity="0.05" stroke-width="1.5"/>
<line x1="342.5" y1="190" x2="342.5" y2="255.2" stroke="#000000" stroke-opacity="0.04" stroke-width="2"/>
<line x1="344.7" y1="190" x2="344.7" y2="255.2" stroke="#000000" stroke-opacity="0.04" stroke-width="1.5"/>
<line x1="347.0" y1="190" x2="347.0" y2="255.2" stroke="#ffffff" stroke-opacity="0.03" stroke-width="2"/>
<line x1="348.8" y1="190" x2="348.8" y2="255.2" stroke="#ffffff" stroke-opacity="0.05" stroke-width="1"/>
<line x1="350.6" y1="190" x2="350.6" y2="255.2" stroke="#000000" stroke-opacity="0.04" stroke-width="2"/>
<line x1="352.4" y1="190" x2="352.4" y2="255.2" stroke="#000000" stroke-opacity="0.06" stroke-width="1.5"/>
<line x1="355.2" y1="190" x2="355.2" y2="255.2" stroke="#ffffff" stroke-opacity="0.07" stroke-width="1"/>
<line x1="357.8" y1="190" x2="357.8" y2="255.2" stroke="#ffffff" stroke-opacity="0.05" stroke-width="1"/>
<line x1="359.4" y1="190" x2="359.4" y2="255.2" stroke="#ffffff" stroke-opacity="0.03" stroke-width="2"/>
<line x1="362.4" y1="190" x2="362.4" y2="255.2" stroke="#ffffff" stroke-opacity="0.05" stroke-width="1.5"/>
<line x1="365.8" y1="190" x2="365.8" y2="255.2" stroke="#ffffff" stroke-opacity="0.05" stroke-width="1"/>
<line x1="367.4" y1="190" x2="367.4" y2="255.2" stroke="#ffffff" stroke-opacity="0.05" stroke-width="1.5"/>
<line x1="369.9" y1="190" x2="369.9" y2="255.2" stroke="#000000" stroke-opacity="0.06" stroke-width="1.5"/>
<line x1="371.9" y1="190" x2="371.9" y2="255.2" stroke="#000000" stroke-opacity="0.04" stroke-width="1"/>
<line x1="373.5" y1="190" x2="373.5" y2="255.2" stroke="#ffffff" stroke-opacity="0.07" stroke-width="1.5"/>
<line x1="376.4" y1="190" x2="376.4" y2="255.2" stroke="#000000" stroke-opacity="0.06" stroke-width="1.5"/>
<line x1="379.5" y1="190" x2="379.5" y2="255.2" stroke="#000000" stroke-opacity="0.06" stroke-width="1"/>
<line x1="382.1" y1="190" x2="382.1" y2="255.2" stroke="#000000" stroke-opacity="0.06" stroke-width="2"/>
<line x1="383.6" y1="190" x2="383.6" y2="255.2" stroke="#000000" stroke-opacity="0.04" stroke-width="1"/>
<line x1="386.3" y1="190" x2="386.3" y2="255.2" stroke="#ffffff" stroke-opacity="0.05" stroke-width="1"/>
<line x1="388.1" y1="190" x2="388.1" y2="255.2" stroke="#000000" stroke-opacity="0.06" stroke-width="2"/>
<line x1="389.9" y1="190" x2="389.9" y2="255.2" stroke="#ffffff" stroke-opacity="0.03" stroke-width="1.5"/>
<path d="M317.76,222.5 L314.22,228.0 M324.84000000000003,222.5 L328.38,228.0" stroke="#8a8a8a" stroke-width="0.9" fill="none"/>
<path d="M321.3,224.5 Q321.3,238.75 321.3,253" stroke="#c8c8c8" stroke-width="1.05" fill="none"/>
<path d="M322.01,191.50 C322.57,191.83 323.29,192.49 323.95,193.48 C324.62,194.47 325.53,195.57 326.02,197.44 C326.51,199.31 326.71,201.73 326.91,204.70 C327.10,207.67 327.25,212.29 327.20,215.26 C327.15,218.23 327.15,220.98 326.61,222.52 C326.07,224.06 325.28,224.17 323.95,224.50 C322.63,224.83 319.97,224.83 318.65,224.50 C317.32,224.17 316.53,224.06 315.99,222.52 C315.45,220.98 315.45,218.23 315.40,215.26 C315.35,212.29 315.50,207.67 315.69,204.70 C315.89,201.73 316.09,199.31 316.58,197.44 C317.07,195.57 317.98,194.47 318.65,193.48 C319.31,192.49 320.03,191.83 320.59,191.50 C321.15,191.17 321.45,191.17 322.01,191.50 Z" fill="url(#mb)" filter="url(#bl2)"/>
<path d="M332.85999999999996,222.5 L329.32,228.0 M339.94,222.5 L343.47999999999996,228.0" stroke="#8a8a8a" stroke-width="0.9" fill="none"/>
<path d="M336.4,224.5 Q336.4,238.75 336.4,253" stroke="#c8c8c8" stroke-width="1.05" fill="none"/>
<path d="M337.11,191.50 C337.67,191.83 338.39,192.49 339.05,193.48 C339.72,194.47 340.63,195.57 341.12,197.44 C341.61,199.31 341.81,201.73 342.00,204.70 C342.20,207.67 342.35,212.29 342.30,215.26 C342.25,218.23 342.25,220.98 341.71,222.52 C341.17,224.06 340.38,224.17 339.05,224.50 C337.73,224.83 335.07,224.83 333.75,224.50 C332.42,224.17 331.63,224.06 331.09,222.52 C330.55,220.98 330.55,218.23 330.50,215.26 C330.45,212.29 330.60,207.67 330.79,204.70 C330.99,201.73 331.19,199.31 331.68,197.44 C332.17,195.57 333.08,194.47 333.75,193.48 C334.41,192.49 335.13,191.83 335.69,191.50 C336.25,191.17 336.55,191.17 337.11,191.50 Z" fill="url(#mb)" filter="url(#bl2)"/>
<path d="M346.65999999999997,222.5 L343.12,228.0 M353.74,222.5 L357.28,228.0" stroke="#8a8a8a" stroke-width="0.9" fill="none"/>
<path d="M350.2,224.5 Q350.2,238.75 350.2,253" stroke="#c8c8c8" stroke-width="1.05" fill="none"/>
<path d="M350.91,191.50 C351.47,191.83 352.19,192.49 352.85,193.48 C353.52,194.47 354.43,195.57 354.92,197.44 C355.41,199.31 355.61,201.73 355.81,204.70 C356.00,207.67 356.15,212.29 356.10,215.26 C356.05,218.23 356.05,220.98 355.51,222.52 C354.97,224.06 354.18,224.17 352.85,224.50 C351.53,224.83 348.87,224.83 347.55,224.50 C346.22,224.17 345.43,224.06 344.89,222.52 C344.35,220.98 344.35,218.23 344.30,215.26 C344.25,212.29 344.40,207.67 344.59,204.70 C344.79,201.73 344.99,199.31 345.48,197.44 C345.97,195.57 346.88,194.47 347.55,193.48 C348.21,192.49 348.93,191.83 349.49,191.50 C350.05,191.17 350.35,191.17 350.91,191.50 Z" fill="url(#mb)" filter="url(#bl2)"/>
<path d="M361.96,222.5 L358.42,228.0 M369.04,222.5 L372.58,228.0" stroke="#8a8a8a" stroke-width="0.9" fill="none"/>
<path d="M365.5,224.5 Q365.5,238.75 365.5,253" stroke="#c8c8c8" stroke-width="1.05" fill="none"/>
<path d="M366.21,191.50 C366.77,191.83 367.49,192.49 368.15,193.48 C368.82,194.47 369.73,195.57 370.22,197.44 C370.71,199.31 370.91,201.73 371.11,204.70 C371.30,207.67 371.45,212.29 371.40,215.26 C371.35,218.23 371.35,220.98 370.81,222.52 C370.27,224.06 369.48,224.17 368.15,224.50 C366.83,224.83 364.17,224.83 362.85,224.50 C361.52,224.17 360.73,224.06 360.19,222.52 C359.65,220.98 359.65,218.23 359.60,215.26 C359.55,212.29 359.70,207.67 359.89,204.70 C360.09,201.73 360.29,199.31 360.78,197.44 C361.27,195.57 362.18,194.47 362.85,193.48 C363.51,192.49 364.23,191.83 364.79,191.50 C365.35,191.17 365.65,191.17 366.21,191.50 Z" fill="url(#mb)" filter="url(#bl2)"/>
<path d="M377.96,222.5 L374.42,228.0 M385.04,222.5 L388.58,228.0" stroke="#8a8a8a" stroke-width="0.9" fill="none"/>
<path d="M381.5,224.5 Q381.5,238.75 381.5,253" stroke="#c8c8c8" stroke-width="1.05" fill="none"/>
<path d="M382.21,191.50 C382.77,191.83 383.49,192.49 384.15,193.48 C384.82,194.47 385.73,195.57 386.22,197.44 C386.71,199.31 386.91,201.73 387.11,204.70 C387.30,207.67 387.45,212.29 387.40,215.26 C387.35,218.23 387.35,220.98 386.81,222.52 C386.27,224.06 385.48,224.17 384.15,224.50 C382.83,224.83 380.17,224.83 378.85,224.50 C377.52,224.17 376.73,224.06 376.19,222.52 C375.65,220.98 375.65,218.23 375.60,215.26 C375.55,212.29 375.70,207.67 375.89,204.70 C376.09,201.73 376.29,199.31 376.78,197.44 C377.27,195.57 378.18,194.47 378.85,193.48 C379.51,192.49 380.23,191.83 380.79,191.50 C381.35,191.17 381.65,191.17 382.21,191.50 Z" fill="url(#mb)" filter="url(#bl2)"/>
<ellipse cx="317.8" cy="201.7" rx="1.8" ry="2.2" fill="#6080ff" filter="url(#bl)"/>
<ellipse cx="315.5" cy="219" rx="2.6" ry="3" fill="#f01414" filter="url(#bl)"/>
<ellipse cx="320.7" cy="220.2" rx="4" ry="3.3" fill="#1040ff" filter="url(#bl)"/>
<ellipse cx="323.7" cy="219.5" rx="1.8" ry="1.8" fill="#20b0e0" filter="url(#bl)"/>
<ellipse cx="326.6" cy="218.5" rx="2.2" ry="2.5" fill="#f01414" filter="url(#bl)"/>
<ellipse cx="331.2" cy="218.4" rx="2.6" ry="3" fill="#f01414" filter="url(#bl)"/>
<ellipse cx="336.5" cy="219.5" rx="2.8" ry="2.4" fill="#2050e0" filter="url(#bl)"/>
<ellipse cx="333.5" cy="207.6" rx="1.8" ry="1.8" fill="#20b0e0" filter="url(#bl)"/>
<ellipse cx="341" cy="218.5" rx="2.2" ry="2.5" fill="#f01414" filter="url(#bl)"/>
<ellipse cx="345.5" cy="219" rx="2.3" ry="2.6" fill="#f01414" filter="url(#bl)"/>
<ellipse cx="350.5" cy="219.5" rx="3" ry="2.8" fill="#2050e0" filter="url(#bl)"/>
<ellipse cx="355.5" cy="219" rx="2.3" ry="2.6" fill="#2050e0" filter="url(#bl)"/>
<ellipse cx="350" cy="207" rx="1.5" ry="1.5" fill="#6080ff" filter="url(#bl)"/>
<ellipse cx="365.5" cy="196.8" rx="2.5" ry="2" fill="#f01414" filter="url(#bl)"/>
<ellipse cx="365" cy="204" rx="1.8" ry="1.8" fill="#20b0e0" filter="url(#bl)"/>
<ellipse cx="360.3" cy="218" rx="2.4" ry="2.8" fill="#f01414" filter="url(#bl)"/>
<ellipse cx="365" cy="219.5" rx="1.8" ry="1.8" fill="#30c040" filter="url(#bl)"/>
<ellipse cx="370.5" cy="218" rx="3.3" ry="3.2" fill="#f01414" filter="url(#bl)"/>
<ellipse cx="367.5" cy="222" rx="2.5" ry="1.5" fill="#2050e0" filter="url(#bl)"/>
<ellipse cx="376.3" cy="219" rx="2.4" ry="2.6" fill="#f01414" filter="url(#bl)"/>
<ellipse cx="381" cy="219" rx="2" ry="2.2" fill="#f01414" filter="url(#bl)"/>
<ellipse cx="386.3" cy="219" rx="3" ry="3.2" fill="#2050e0" filter="url(#bl)"/>
<ellipse cx="381.5" cy="208" rx="1.5" ry="1.5" fill="#6080ff" filter="url(#bl)"/>
</g>
<clipPath id="cp5"><rect x="404.3" y="190" width="72.8" height="64.6"/></clipPath><g clip-path="url(#cp5)">
<rect x="404.3" y="190" width="72.8" height="64.6" fill="#3c3c3c" />
<line x1="405.3" y1="190" x2="405.3" y2="254.6" stroke="#000000" stroke-opacity="0.06" stroke-width="2"/>
<line x1="407.8" y1="190" x2="407.8" y2="254.6" stroke="#ffffff" stroke-opacity="0.03" stroke-width="2"/>
<line x1="409.4" y1="190" x2="409.4" y2="254.6" stroke="#ffffff" stroke-opacity="0.05" stroke-width="1.5"/>
<line x1="411.0" y1="190" x2="411.0" y2="254.6" stroke="#ffffff" stroke-opacity="0.03" stroke-width="2"/>
<line x1="413.4" y1="190" x2="413.4" y2="254.6" stroke="#ffffff" stroke-opacity="0.03" stroke-width="1"/>
<line x1="415.8" y1="190" x2="415.8" y2="254.6" stroke="#000000" stroke-opacity="0.06" stroke-width="2"/>
<line x1="418.5" y1="190" x2="418.5" y2="254.6" stroke="#ffffff" stroke-opacity="0.05" stroke-width="2"/>
<line x1="420.5" y1="190" x2="420.5" y2="254.6" stroke="#000000" stroke-opacity="0.06" stroke-width="2"/>
<line x1="423.6" y1="190" x2="423.6" y2="254.6" stroke="#000000" stroke-opacity="0.06" stroke-width="1"/>
<line x1="426.5" y1="190" x2="426.5" y2="254.6" stroke="#ffffff" stroke-opacity="0.07" stroke-width="2"/>
<line x1="429.8" y1="190" x2="429.8" y2="254.6" stroke="#ffffff" stroke-opacity="0.05" stroke-width="1.5"/>
<line x1="431.6" y1="190" x2="431.6" y2="254.6" stroke="#ffffff" stroke-opacity="0.03" stroke-width="1.5"/>
<line x1="434.0" y1="190" x2="434.0" y2="254.6" stroke="#ffffff" stroke-opacity="0.03" stroke-width="2"/>
<line x1="436.0" y1="190" x2="436.0" y2="254.6" stroke="#ffffff" stroke-opacity="0.03" stroke-width="1"/>
<line x1="438.8" y1="190" x2="438.8" y2="254.6" stroke="#ffffff" stroke-opacity="0.03" stroke-width="1"/>
<line x1="442.2" y1="190" x2="442.2" y2="254.6" stroke="#ffffff" stroke-opacity="0.07" stroke-width="1"/>
<line x1="444.2" y1="190" x2="444.2" y2="254.6" stroke="#ffffff" stroke-opacity="0.05" stroke-width="1.5"/>
<line x1="446.1" y1="190" x2="446.1" y2="254.6" stroke="#ffffff" stroke-opacity="0.03" stroke-width="1.5"/>
<line x1="449.4" y1="190" x2="449.4" y2="254.6" stroke="#ffffff" stroke-opacity="0.05" stroke-width="2"/>
<line x1="452.6" y1="190" x2="452.6" y2="254.6" stroke="#ffffff" stroke-opacity="0.05" stroke-width="2"/>
<line x1="454.9" y1="190" x2="454.9" y2="254.6" stroke="#000000" stroke-opacity="0.06" stroke-width="1.5"/>
<line x1="457.1" y1="190" x2="457.1" y2="254.6" stroke="#ffffff" stroke-opacity="0.05" stroke-width="1.5"/>
<line x1="459.2" y1="190" x2="459.2" y2="254.6" stroke="#ffffff" stroke-opacity="0.07" stroke-width="1"/>
<line x1="461.4" y1="190" x2="461.4" y2="254.6" stroke="#000000" stroke-opacity="0.04" stroke-width="1.5"/>
<line x1="464.3" y1="190" x2="464.3" y2="254.6" stroke="#000000" stroke-opacity="0.04" stroke-width="1.5"/>
<line x1="466.9" y1="190" x2="466.9" y2="254.6" stroke="#ffffff" stroke-opacity="0.07" stroke-width="2"/>
<line x1="470.3" y1="190" x2="470.3" y2="254.6" stroke="#ffffff" stroke-opacity="0.03" stroke-width="1"/>
<line x1="473.7" y1="190" x2="473.7" y2="254.6" stroke="#ffffff" stroke-opacity="0.03" stroke-width="1"/>
<line x1="475.7" y1="190" x2="475.7" y2="254.6" stroke="#ffffff" stroke-opacity="0.03" stroke-width="1"/>
<path d="M408.9,220 L405.3,225.5 M416.1,220 L419.7,225.5" stroke="#8a8a8a" stroke-width="0.9" fill="none"/>
<path d="M412.5,222 Q412.5,237.0 412.5,252" stroke="#c8c8c8" stroke-width="1.05" fill="none"/>
<path d="M413.22,190.50 C413.79,190.81 414.52,191.44 415.20,192.39 C415.88,193.33 416.80,194.38 417.30,196.17 C417.80,197.95 418.00,200.26 418.20,203.10 C418.40,205.94 418.55,210.34 418.50,213.18 C418.45,216.02 418.45,218.64 417.90,220.11 C417.35,221.58 416.55,221.69 415.20,222.00 C413.85,222.31 411.15,222.31 409.80,222.00 C408.45,221.69 407.65,221.58 407.10,220.11 C406.55,218.64 406.55,216.02 406.50,213.18 C406.45,210.34 406.60,205.94 406.80,203.10 C407.00,200.26 407.20,197.95 407.70,196.17 C408.20,194.38 409.12,193.33 409.80,192.39 C410.48,191.44 411.21,190.81 411.78,190.50 C412.35,190.19 412.65,190.19 413.22,190.50 Z" fill="url(#mb)" filter="url(#bl2)"/>
<path d="M422.25,220 L418.5,225.5 M429.75,220 L433.5,225.5" stroke="#8a8a8a" stroke-width="0.9" fill="none"/>
<path d="M426,222 Q426.0,237.0 426,252" stroke="#c8c8c8" stroke-width="1.05" fill="none"/>
<path d="M426.75,190.50 C427.34,190.81 428.10,191.44 428.81,192.39 C429.52,193.33 430.48,194.38 431.00,196.17 C431.52,197.95 431.73,200.26 431.94,203.10 C432.15,205.94 432.30,210.34 432.25,213.18 C432.20,216.02 432.20,218.64 431.62,220.11 C431.05,221.58 430.22,221.69 428.81,222.00 C427.41,222.31 424.59,222.31 423.19,222.00 C421.78,221.69 420.95,221.58 420.38,220.11 C419.80,218.64 419.80,216.02 419.75,213.18 C419.70,210.34 419.85,205.94 420.06,203.10 C420.27,200.26 420.48,197.95 421.00,196.17 C421.52,194.38 422.48,193.33 423.19,192.39 C423.90,191.44 424.66,190.81 425.25,190.50 C425.84,190.19 426.16,190.19 426.75,190.50 Z" fill="url(#mb)" filter="url(#bl2)"/>
<path d="M436.9,220 L433.3,225.5 M444.1,220 L447.7,225.5" stroke="#8a8a8a" stroke-width="0.9" fill="none"/>
<path d="M440.5,222 Q440.5,237.0 440.5,252" stroke="#c8c8c8" stroke-width="1.05" fill="none"/>
<path d="M441.22,190.50 C441.79,190.81 442.52,191.44 443.20,192.39 C443.88,193.33 444.80,194.38 445.30,196.17 C445.80,197.95 446.00,200.26 446.20,203.10 C446.40,205.94 446.55,210.34 446.50,213.18 C446.45,216.02 446.45,218.64 445.90,220.11 C445.35,221.58 444.55,221.69 443.20,222.00 C441.85,222.31 439.15,222.31 437.80,222.00 C436.45,221.69 435.65,221.58 435.10,220.11 C434.55,218.64 434.55,216.02 434.50,213.18 C434.45,210.34 434.60,205.94 434.80,203.10 C435.00,200.26 435.20,197.95 435.70,196.17 C436.20,194.38 437.12,193.33 437.80,192.39 C438.48,191.44 439.21,190.81 439.78,190.50 C440.35,190.19 440.65,190.19 441.22,190.50 Z" fill="url(#mb)" filter="url(#bl2)"/>
<path d="M450.8,220 L446.6,225.5 M459.2,220 L463.4,225.5" stroke="#8a8a8a" stroke-width="0.9" fill="none"/>
<path d="M455,222 Q455.0,237.0 455,252" stroke="#c8c8c8" stroke-width="1.05" fill="none"/>
<path d="M455.84,190.50 C456.50,190.81 457.36,191.44 458.15,192.39 C458.94,193.33 460.02,194.38 460.60,196.17 C461.18,197.95 461.42,200.26 461.65,203.10 C461.88,205.94 462.06,210.34 462.00,213.18 C461.94,216.02 461.94,218.64 461.30,220.11 C460.66,221.58 459.72,221.69 458.15,222.00 C456.57,222.31 453.43,222.31 451.85,222.00 C450.28,221.69 449.34,221.58 448.70,220.11 C448.06,218.64 448.06,216.02 448.00,213.18 C447.94,210.34 448.12,205.94 448.35,203.10 C448.58,200.26 448.82,197.95 449.40,196.17 C449.98,194.38 451.06,193.33 451.85,192.39 C452.64,191.44 453.50,190.81 454.16,190.50 C454.83,190.19 455.17,190.19 455.84,190.50 Z" fill="url(#mb)" filter="url(#bl2)"/>
<path d="M465.45,220 L461.4,225.5 M473.55,220 L477.6,225.5" stroke="#8a8a8a" stroke-width="0.9" fill="none"/>
<path d="M469.5,222 Q469.5,237.0 469.5,252" stroke="#c8c8c8" stroke-width="1.05" fill="none"/>
<path d="M470.31,190.50 C470.95,190.81 471.77,191.44 472.54,192.39 C473.30,193.33 474.34,194.38 474.90,196.17 C475.46,197.95 475.69,200.26 475.91,203.10 C476.14,205.94 476.31,210.34 476.25,213.18 C476.19,216.02 476.19,218.64 475.57,220.11 C474.96,221.58 474.06,221.69 472.54,222.00 C471.02,222.31 467.98,222.31 466.46,222.00 C464.94,221.69 464.04,221.58 463.43,220.11 C462.81,218.64 462.81,216.02 462.75,213.18 C462.69,210.34 462.86,205.94 463.09,203.10 C463.31,200.26 463.54,197.95 464.10,196.17 C464.66,194.38 465.70,193.33 466.46,192.39 C467.23,191.44 468.05,190.81 468.69,190.50 C469.33,190.19 469.67,190.19 470.31,190.50 Z" fill="url(#mb)" filter="url(#bl2)"/>
<ellipse cx="414.2" cy="197.3" rx="2.8" ry="2.6" fill="#f01414" filter="url(#bl)"/>
<ellipse cx="410.3" cy="202.8" rx="1.8" ry="2" fill="#2050e0" filter="url(#bl)"/>
<ellipse cx="413" cy="209" rx="2" ry="1.8" fill="#5050d0" filter="url(#bl)"/>
<path d="M406.5,207 Q409,214 416.5,219.5 L414,222 Q407,220 406.5,214 Z" fill="#f01414" filter="url(#bl)"/>
<ellipse cx="411" cy="221" rx="3.5" ry="1.3" fill="#e8e020" filter="url(#bl)"/>
<ellipse cx="415" cy="221.5" rx="1.8" ry="1.2" fill="#30c040" filter="url(#bl)"/>
<ellipse cx="422.8" cy="207.3" rx="2.6" ry="2.8" fill="#f01414" filter="url(#bl)"/>
<ellipse cx="423.3" cy="218" rx="4" ry="3.3" fill="#f01414" filter="url(#bl)"/>
<ellipse cx="431" cy="211.9" rx="2" ry="4.5" fill="#f01414" filter="url(#bl)"/>
<ellipse cx="428.5" cy="201.7" rx="1.8" ry="2.8" fill="#3050e0" filter="url(#bl)"/>
<ellipse cx="425" cy="202.2" rx="1.5" ry="1.5" fill="#20b0e0" filter="url(#bl)"/>
<ellipse cx="426" cy="222.5" rx="3.5" ry="1.2" fill="#30c040" filter="url(#bl)"/>
<ellipse cx="422" cy="222.5" rx="1.8" ry="1" fill="#e8e020" filter="url(#bl)"/>
<ellipse cx="440.5" cy="198.2" rx="3.2" ry="3.5" fill="#f01414" filter="url(#bl)"/>
<ellipse cx="437.5" cy="199" rx="1.3" ry="2" fill="#30c040" filter="url(#bl)"/>
<ellipse cx="440.5" cy="206.8" rx="2.3" ry="2.3" fill="#3060e0" filter="url(#bl)"/>
<ellipse cx="438" cy="206" rx="1.2" ry="1.2" fill="#20b0e0" filter="url(#bl)"/>
<ellipse cx="440.5" cy="216.3" rx="6" ry="2.8" fill="#f01414" filter="url(#bl)"/>
<ellipse cx="438" cy="221.5" rx="2" ry="1.2" fill="#30c040" filter="url(#bl)"/>
<ellipse cx="441" cy="221.8" rx="1.8" ry="1.1" fill="#e8e020" filter="url(#bl)"/>
<ellipse cx="444" cy="221.5" rx="1.8" ry="1.1" fill="#2050e0" filter="url(#bl)"/>
<path d="M456.06,190.50 C456.72,190.93 457.19,191.73 457.84,193.06 C458.49,194.39 459.35,196.26 459.97,198.50 C460.59,200.74 461.18,203.99 461.53,206.50 C461.89,209.01 462.18,211.30 462.10,213.54 C462.02,215.78 461.75,218.45 461.04,219.94 C460.33,221.43 459.32,222.07 457.84,222.50 C456.36,222.93 453.64,222.93 452.16,222.50 C450.68,222.07 449.67,221.43 448.96,219.94 C448.25,218.45 447.98,215.78 447.90,213.54 C447.82,211.30 448.11,209.01 448.47,206.50 C448.82,203.99 449.41,200.74 450.03,198.50 C450.65,196.26 451.51,194.39 452.16,193.06 C452.81,191.73 453.28,190.93 453.94,190.50 C454.59,190.07 455.41,190.07 456.06,190.50 Z" fill="#f01010" filter="url(#bl2)"/>
<ellipse cx="451.3" cy="202.8" rx="1.5" ry="1.7" fill="#20b0e0" filter="url(#bl)"/>
<ellipse cx="459.3" cy="205" rx="1" ry="1.5" fill="#e8e020" filter="url(#bl)"/>
<ellipse cx="469.5" cy="204" rx="2.5" ry="1.8" fill="#5070e0" filter="url(#bl)"/>
<ellipse cx="467.5" cy="199" rx="1.2" ry="1.2" fill="#6080ff" filter="url(#bl)"/>
<path d="M470.96,206.50 C471.93,206.67 472.72,206.90 473.42,207.52 C474.12,208.14 474.73,209.05 475.15,210.24 C475.57,211.43 475.86,213.19 475.95,214.66 C476.04,216.13 475.99,217.81 475.68,219.08 C475.37,220.36 474.82,221.57 474.09,222.31 C473.36,223.05 472.43,223.30 471.30,223.50 C470.16,223.70 468.44,223.70 467.31,223.50 C466.17,223.30 465.24,223.05 464.51,222.31 C463.78,221.57 463.23,220.36 462.92,219.08 C462.61,217.81 462.56,216.13 462.65,214.66 C462.74,213.19 463.03,211.43 463.45,210.24 C463.87,209.05 464.48,208.14 465.18,207.52 C465.88,206.90 466.67,206.67 467.64,206.50 C468.60,206.33 470.00,206.33 470.96,206.50 Z" fill="#f01010" filter="url(#bl2)"/>
</g>
<clipPath id="cp6"><rect x="309" y="261" width="83.6" height="67.5"/></clipPath><g clip-path="url(#cp6)">
<rect x="309" y="261" width="83.6" height="67.5" fill="#3c3c3c" />
<line x1="310.0" y1="261" x2="310.0" y2="328.5" stroke="#ffffff" stroke-opacity="0.05" stroke-width="1.5"/>
<line x1="313.2" y1="261" x2="313.2" y2="328.5" stroke="#ffffff" stroke-opacity="0.07" stroke-width="1.5"/>
<line x1="315.0" y1="261" x2="315.0" y2="328.5" stroke="#000000" stroke-opacity="0.06" stroke-width="2"/>
<line x1="317.5" y1="261" x2="317.5" y2="328.5" stroke="#ffffff" stroke-opacity="0.07" stroke-width="1"/>
<line x1="319.5" y1="261" x2="319.5" y2="328.5" stroke="#ffffff" stroke-opacity="0.05" stroke-width="1.5"/>
<line x1="322.8" y1="261" x2="322.8" y2="328.5" stroke="#ffffff" stroke-opacity="0.07" stroke-width="1"/>
<line x1="325.6" y1="261" x2="325.6" y2="328.5" stroke="#ffffff" stroke-opacity="0.07" stroke-width="1"/>
<line x1="328.3" y1="261" x2="328.3" y2="328.5" stroke="#ffffff" stroke-opacity="0.05" stroke-width="1"/>
<line x1="330.3" y1="261" x2="330.3" y2="328.5" stroke="#ffffff" stroke-opacity="0.03" stroke-width="1.5"/>
<line x1="331.9" y1="261" x2="331.9" y2="328.5" stroke="#000000" stroke-opacity="0.06" stroke-width="1.5"/>
<line x1="335.2" y1="261" x2="335.2" y2="328.5" stroke="#ffffff" stroke-opacity="0.07" stroke-width="2"/>
<line x1="337.0" y1="261" x2="337.0" y2="328.5" stroke="#000000" stroke-opacity="0.06" stroke-width="2"/>
<line x1="339.0" y1="261" x2="339.0" y2="328.5" stroke="#ffffff" stroke-opacity="0.03" stroke-width="1"/>
<line x1="341.0" y1="261" x2="341.0" y2="328.5" stroke="#ffffff" stroke-opacity="0.05" stroke-width="1"/>
<line x1="344.4" y1="261" x2="344.4" y2="328.5" stroke="#ffffff" stroke-opacity="0.07" stroke-width="2"/>
<line x1="347.4" y1="261" x2="347.4" y2="328.5" stroke="#ffffff" stroke-opacity="0.07" stroke-width="1.5"/>
<line x1="349.9" y1="261" x2="349.9" y2="328.5" stroke="#ffffff" stroke-opacity="0.05" stroke-width="1.5"/>
<line x1="352.1" y1="261" x2="352.1" y2="328.5" stroke="#ffffff" stroke-opacity="0.03" stroke-width="1.5"/>
<line x1="353.6" y1="261" x2="353.6" y2="328.5" stroke="#ffffff" stroke-opacity="0.03" stroke-width="2"/>
<line x1="356.1" y1="261" x2="356.1" y2="328.5" stroke="#ffffff" stroke-opacity="0.05" stroke-width="2"/>
<line x1="358.6" y1="261" x2="358.6" y2="328.5" stroke="#000000" stroke-opacity="0.04" stroke-width="1"/>
<line x1="361.4" y1="261" x2="361.4" y2="328.5" stroke="#000000" stroke-opacity="0.04" stroke-width="2"/>
<line x1="363.9" y1="261" x2="363.9" y2="328.5" stroke="#000000" stroke-opacity="0.04" stroke-width="2"/>
<line x1="366.0" y1="261" x2="366.0" y2="328.5" stroke="#ffffff" stroke-opacity="0.05" stroke-width="1"/>
<line x1="368.2" y1="261" x2="368.2" y2="328.5" stroke="#ffffff" stroke-opacity="0.05" stroke-width="1.5"/>
<line x1="371.7" y1="261" x2="371.7" y2="328.5" stroke="#ffffff" stroke-opacity="0.03" stroke-width="1"/>
<line x1="373.2" y1="261" x2="373.2" y2="328.5" stroke="#ffffff" stroke-opacity="0.07" stroke-width="1.5"/>
<line x1="375.0" y1="261" x2="375.0" y2="328.5" stroke="#ffffff" stroke-opacity="0.03" stroke-width="2"/>
<line x1="378.2" y1="261" x2="378.2" y2="328.5" stroke="#000000" stroke-opacity="0.06" stroke-width="2"/>
<line x1="381.7" y1="261" x2="381.7" y2="328.5" stroke="#000000" stroke-opacity="0.06" stroke-width="1"/>
<line x1="384.5" y1="261" x2="384.5" y2="328.5" stroke="#ffffff" stroke-opacity="0.03" stroke-width="1.5"/>
<line x1="386.4" y1="261" x2="386.4" y2="328.5" stroke="#ffffff" stroke-opacity="0.07" stroke-width="1.5"/>
<line x1="387.9" y1="261" x2="387.9" y2="328.5" stroke="#ffffff" stroke-opacity="0.07" stroke-width="1.5"/>
<line x1="391.4" y1="261" x2="391.4" y2="328.5" stroke="#000000" stroke-opacity="0.06" stroke-width="1.5"/>
<path d="M314.51,294 L310.82,299.5 M321.89,294 L325.58,299.5" stroke="#8a8a8a" stroke-width="0.9" fill="none"/>
<path d="M318.2,296 Q319.1,310.8 320,325.6" stroke="#c8c8c8" stroke-width="1.05" fill="none"/>
<path d="M318.94,261.50 C319.52,261.85 320.27,262.53 320.97,263.57 C321.66,264.61 322.61,265.75 323.12,267.71 C323.63,269.66 323.84,272.19 324.04,275.30 C324.25,278.41 324.40,283.23 324.35,286.34 C324.30,289.44 324.30,292.32 323.74,293.93 C323.17,295.54 322.35,295.65 320.97,296.00 C319.58,296.35 316.82,296.35 315.43,296.00 C314.05,295.65 313.23,295.54 312.66,293.93 C312.10,292.32 312.10,289.44 312.05,286.34 C312.00,283.23 312.15,278.41 312.36,275.30 C312.56,272.19 312.77,269.66 313.28,267.71 C313.79,265.75 314.74,264.61 315.43,263.57 C316.13,262.53 316.88,261.85 317.46,261.50 C318.05,261.15 318.35,261.15 318.94,261.50 Z" fill="url(#mb)" filter="url(#bl2)"/>
<path d="M329.91,294 L326.22,299.5 M337.29,294 L340.98,299.5" stroke="#8a8a8a" stroke-width="0.9" fill="none"/>
<path d="M333.6,296 Q334.3,310.8 335,325.6" stroke="#c8c8c8" stroke-width="1.05" fill="none"/>
<path d="M334.34,261.50 C334.92,261.85 335.67,262.53 336.37,263.57 C337.06,264.61 338.01,265.75 338.52,267.71 C339.03,269.66 339.24,272.19 339.44,275.30 C339.65,278.41 339.80,283.23 339.75,286.34 C339.70,289.44 339.70,292.32 339.14,293.93 C338.57,295.54 337.75,295.65 336.37,296.00 C334.98,296.35 332.22,296.35 330.83,296.00 C329.45,295.65 328.63,295.54 328.06,293.93 C327.50,292.32 327.50,289.44 327.45,286.34 C327.40,283.23 327.55,278.41 327.76,275.30 C327.96,272.19 328.17,269.66 328.68,267.71 C329.19,265.75 330.14,264.61 330.83,263.57 C331.53,262.53 332.28,261.85 332.86,261.50 C333.45,261.15 333.75,261.15 334.34,261.50 Z" fill="url(#mb)" filter="url(#bl2)"/>
<path d="M346.31,294 L342.62,299.5 M353.69,294 L357.38,299.5" stroke="#8a8a8a" stroke-width="0.9" fill="none"/>
<path d="M350,296 Q350.5,310.8 351,325.6" stroke="#c8c8c8" stroke-width="1.05" fill="none"/>
<path d="M350.74,261.50 C351.32,261.85 352.07,262.53 352.77,263.57 C353.46,264.61 354.41,265.75 354.92,267.71 C355.43,269.66 355.64,272.19 355.84,275.30 C356.05,278.41 356.20,283.23 356.15,286.34 C356.10,289.44 356.10,292.32 355.54,293.93 C354.97,295.54 354.15,295.65 352.77,296.00 C351.38,296.35 348.62,296.35 347.23,296.00 C345.85,295.65 345.03,295.54 344.46,293.93 C343.90,292.32 343.90,289.44 343.85,286.34 C343.80,283.23 343.95,278.41 344.16,275.30 C344.36,272.19 344.57,269.66 345.08,267.71 C345.59,265.75 346.54,264.61 347.23,263.57 C347.93,262.53 348.68,261.85 349.26,261.50 C349.85,261.15 350.15,261.15 350.74,261.50 Z" fill="url(#mb)" filter="url(#bl2)"/>
<path d="M362.71,294 L359.02,299.5 M370.09,294 L373.78,299.5" stroke="#8a8a8a" stroke-width="0.9" fill="none"/>
<path d="M366.4,296 Q366.95,310.8 367.5,325.6" stroke="#c8c8c8" stroke-width="1.05" fill="none"/>
<path d="M367.14,261.50 C367.72,261.85 368.47,262.53 369.17,263.57 C369.86,264.61 370.81,265.75 371.32,267.71 C371.83,269.66 372.04,272.19 372.24,275.30 C372.45,278.41 372.60,283.23 372.55,286.34 C372.50,289.44 372.50,292.32 371.94,293.93 C371.37,295.54 370.55,295.65 369.17,296.00 C367.78,296.35 365.02,296.35 363.63,296.00 C362.25,295.65 361.43,295.54 360.86,293.93 C360.30,292.32 360.30,289.44 360.25,286.34 C360.20,283.23 360.35,278.41 360.56,275.30 C360.76,272.19 360.97,269.66 361.48,267.71 C361.99,265.75 362.94,264.61 363.63,263.57 C364.33,262.53 365.08,261.85 365.66,261.50 C366.25,261.15 366.55,261.15 367.14,261.50 Z" fill="url(#mb)" filter="url(#bl2)"/>
<path d="M378.01,294 L374.32,299.5 M385.39,294 L389.08,299.5" stroke="#8a8a8a" stroke-width="0.9" fill="none"/>
<path d="M381.7,296 Q382.35,310.8 383,325.6" stroke="#c8c8c8" stroke-width="1.05" fill="none"/>
<path d="M382.44,261.50 C383.02,261.85 383.77,262.53 384.47,263.57 C385.16,264.61 386.11,265.75 386.62,267.71 C387.13,269.66 387.34,272.19 387.54,275.30 C387.75,278.41 387.90,283.23 387.85,286.34 C387.80,289.44 387.80,292.32 387.24,293.93 C386.67,295.54 385.85,295.65 384.47,296.00 C383.08,296.35 380.32,296.35 378.93,296.00 C377.55,295.65 376.73,295.54 376.16,293.93 C375.60,292.32 375.60,289.44 375.55,286.34 C375.50,283.23 375.65,278.41 375.86,275.30 C376.06,272.19 376.27,269.66 376.78,267.71 C377.29,265.75 378.24,264.61 378.93,263.57 C379.63,262.53 380.38,261.85 380.96,261.50 C381.55,261.15 381.85,261.15 382.44,261.50 Z" fill="url(#mb)" filter="url(#bl2)"/>
<ellipse cx="315" cy="290" rx="2.5" ry="1.5" fill="#20b0e0" filter="url(#bl)"/>
<ellipse cx="321" cy="290" rx="2" ry="1.5" fill="#6080ff" filter="url(#bl)"/>
<ellipse cx="331" cy="290" rx="2" ry="1.5" fill="#6080ff" filter="url(#bl)"/>
<ellipse cx="347" cy="290" rx="2" ry="1.5" fill="#8090ff" filter="url(#bl)"/>
<ellipse cx="380" cy="290" rx="2" ry="2" fill="#2040c0" filter="url(#bl)"/>
</g>
<clipPath id="cp7"><rect x="404.2" y="261.2" width="83.8" height="67.2"/></clipPath><g clip-path="url(#cp7)">
<rect x="404.2" y="261.2" width="83.8" height="67.2" fill="#3c3c3c" />
<line x1="405.2" y1="261.2" x2="405.2" y2="328.4" stroke="#ffffff" stroke-opacity="0.07" stroke-width="1"/>
<line x1="407.4" y1="261.2" x2="407.4" y2="328.4" stroke="#ffffff" stroke-opacity="0.03" stroke-width="1.5"/>
<line x1="409.7" y1="261.2" x2="409.7" y2="328.4" stroke="#000000" stroke-opacity="0.04" stroke-width="1.5"/>
<line x1="412.2" y1="261.2" x2="412.2" y2="328.4" stroke="#ffffff" stroke-opacity="0.05" stroke-width="1"/>
<line x1="414.7" y1="261.2" x2="414.7" y2="328.4" stroke="#ffffff" stroke-opacity="0.03" stroke-width="1"/>
<line x1="416.7" y1="261.2" x2="416.7" y2="328.4" stroke="#ffffff" stroke-opacity="0.03" stroke-width="1"/>
<line x1="419.0" y1="261.2" x2="419.0" y2="328.4" stroke="#ffffff" stroke-opacity="0.03" stroke-width="1.5"/>
<line x1="420.6" y1="261.2" x2="420.6" y2="328.4" stroke="#ffffff" stroke-opacity="0.07" stroke-width="2"/>
<line x1="422.5" y1="261.2" x2="422.5" y2="328.4" stroke="#000000" stroke-opacity="0.06" stroke-width="2"/>
<line x1="425.7" y1="261.2" x2="425.7" y2="328.4" stroke="#ffffff" stroke-opacity="0.05" stroke-width="2"/>
<line x1="429.0" y1="261.2" x2="429.0" y2="328.4" stroke="#000000" stroke-opacity="0.06" stroke-width="1.5"/>
<line x1="432.1" y1="261.2" x2="432.1" y2="328.4" stroke="#000000" stroke-opacity="0.04" stroke-width="1"/>
<line x1="434.1" y1="261.2" x2="434.1" y2="328.4" stroke="#000000" stroke-opacity="0.06" stroke-width="2"/>
<line x1="435.9" y1="261.2" x2="435.9" y2="328.4" stroke="#000000" stroke-opacity="0.06" stroke-width="2"/>
<line x1="438.3" y1="261.2" x2="438.3" y2="328.4" stroke="#000000" stroke-opacity="0.06" stroke-width="1"/>
<line x1="441.6" y1="261.2" x2="441.6" y2="328.4" stroke="#000000" stroke-opacity="0.06" stroke-width="2"/>
<line x1="444.8" y1="261.2" x2="444.8" y2="328.4" stroke="#ffffff" stroke-opacity="0.03" stroke-width="2"/>
<line x1="447.4" y1="261.2" x2="447.4" y2="328.4" stroke="#ffffff" stroke-opacity="0.05" stroke-width="1"/>
<line x1="449.0" y1="261.2" x2="449.0" y2="328.4" stroke="#ffffff" stroke-opacity="0.05" stroke-width="2"/>
<line x1="451.2" y1="261.2" x2="451.2" y2="328.4" stroke="#ffffff" stroke-opacity="0.03" stroke-width="1.5"/>
<line x1="454.4" y1="261.2" x2="454.4" y2="328.4" stroke="#000000" stroke-opacity="0.06" stroke-width="1"/>
<line x1="457.1" y1="261.2" x2="457.1" y2="328.4" stroke="#000000" stroke-opacity="0.06" stroke-width="2"/>
<line x1="459.1" y1="261.2" x2="459.1" y2="328.4" stroke="#ffffff" stroke-opacity="0.07" stroke-width="1"/>
<line x1="461.5" y1="261.2" x2="461.5" y2="328.4" stroke="#ffffff" stroke-opacity="0.03" stroke-width="2"/>
<line x1="464.9" y1="261.2" x2="464.9" y2="328.4" stroke="#000000" stroke-opacity="0.06" stroke-width="1"/>
<line x1="467.7" y1="261.2" x2="467.7" y2="328.4" stroke="#ffffff" stroke-opacity="0.03" stroke-width="2"/>
<line x1="470.7" y1="261.2" x2="470.7" y2="328.4" stroke="#ffffff" stroke-opacity="0.07" stroke-width="1"/>
<line x1="473.9" y1="261.2" x2="473.9" y2="328.4" stroke="#ffffff" stroke-opacity="0.05" stroke-width="2"/>
<line x1="476.9" y1="261.2" x2="476.9" y2="328.4" stroke="#ffffff" stroke-opacity="0.05" stroke-width="2"/>
<line x1="479.7" y1="261.2" x2="479.7" y2="328.4" stroke="#000000" stroke-opacity="0.04" stroke-width="1.5"/>
<line x1="482.9" y1="261.2" x2="482.9" y2="328.4" stroke="#ffffff" stroke-opacity="0.03" stroke-width="1.5"/>
<line x1="486.2" y1="261.2" x2="486.2" y2="328.4" stroke="#ffffff" stroke-opacity="0.07" stroke-width="1"/>
<path d="M409.61,295 L405.92,300.5 M416.99,295 L420.68,300.5" stroke="#8a8a8a" stroke-width="0.9" fill="none"/>
<path d="M413.3,297 Q414.85,311.8 416.4,326.6" stroke="#c8c8c8" stroke-width="1.05" fill="none"/>
<path d="M414.04,262.50 C414.62,262.85 415.37,263.53 416.07,264.57 C416.76,265.61 417.71,266.75 418.22,268.71 C418.73,270.66 418.94,273.19 419.14,276.30 C419.35,279.41 419.50,284.23 419.45,287.34 C419.40,290.44 419.40,293.32 418.84,294.93 C418.27,296.54 417.45,296.65 416.07,297.00 C414.68,297.35 411.92,297.35 410.53,297.00 C409.15,296.65 408.33,296.54 407.76,294.93 C407.20,293.32 407.20,290.44 407.15,287.34 C407.10,284.23 407.25,279.41 407.46,276.30 C407.66,273.19 407.87,270.66 408.38,268.71 C408.89,266.75 409.84,265.61 410.53,264.57 C411.23,263.53 411.98,262.85 412.56,262.50 C413.15,262.15 413.45,262.15 414.04,262.50 Z" fill="url(#mb)" filter="url(#bl2)"/>
<path d="M425.91,295 L422.22,300.5 M433.29,295 L436.98,300.5" stroke="#8a8a8a" stroke-width="0.9" fill="none"/>
<path d="M429.6,297 Q431.3,311.8 433,326.6" stroke="#c8c8c8" stroke-width="1.05" fill="none"/>
<path d="M430.34,262.50 C430.92,262.85 431.67,263.53 432.37,264.57 C433.06,265.61 434.01,266.75 434.52,268.71 C435.03,270.66 435.24,273.19 435.44,276.30 C435.65,279.41 435.80,284.23 435.75,287.34 C435.70,290.44 435.70,293.32 435.14,294.93 C434.57,296.54 433.75,296.65 432.37,297.00 C430.98,297.35 428.22,297.35 426.83,297.00 C425.45,296.65 424.63,296.54 424.06,294.93 C423.50,293.32 423.50,290.44 423.45,287.34 C423.40,284.23 423.55,279.41 423.76,276.30 C423.96,273.19 424.17,270.66 424.68,268.71 C425.19,266.75 426.14,265.61 426.83,264.57 C427.53,263.53 428.28,262.85 428.86,262.50 C429.45,262.15 429.75,262.15 430.34,262.50 Z" fill="url(#mb)" filter="url(#bl2)"/>
<path d="M441.31,295 L437.62,300.5 M448.69,295 L452.38,300.5" stroke="#8a8a8a" stroke-width="0.9" fill="none"/>
<path d="M445,297 Q446.4,311.8 447.8,326.6" stroke="#c8c8c8" stroke-width="1.05" fill="none"/>
<path d="M445.74,262.50 C446.32,262.85 447.07,263.53 447.77,264.57 C448.46,265.61 449.41,266.75 449.92,268.71 C450.43,270.66 450.64,273.19 450.84,276.30 C451.05,279.41 451.20,284.23 451.15,287.34 C451.10,290.44 451.10,293.32 450.54,294.93 C449.97,296.54 449.15,296.65 447.77,297.00 C446.38,297.35 443.62,297.35 442.23,297.00 C440.85,296.65 440.03,296.54 439.46,294.93 C438.90,293.32 438.90,290.44 438.85,287.34 C438.80,284.23 438.95,279.41 439.16,276.30 C439.36,273.19 439.57,270.66 440.08,268.71 C440.59,266.75 441.54,265.61 442.23,264.57 C442.93,263.53 443.68,262.85 444.26,262.50 C444.85,262.15 445.15,262.15 445.74,262.50 Z" fill="url(#mb)" filter="url(#bl2)"/>
<path d="M457.71,295 L454.02,300.5 M465.09,295 L468.78,300.5" stroke="#8a8a8a" stroke-width="0.9" fill="none"/>
<path d="M461.4,297 Q461.2,311.8 461,326.6" stroke="#c8c8c8" stroke-width="1.05" fill="none"/>
<path d="M462.14,262.50 C462.72,262.85 463.47,263.53 464.17,264.57 C464.86,265.61 465.81,266.75 466.32,268.71 C466.83,270.66 467.04,273.19 467.24,276.30 C467.45,279.41 467.60,284.23 467.55,287.34 C467.50,290.44 467.50,293.32 466.94,294.93 C466.37,296.54 465.55,296.65 464.17,297.00 C462.78,297.35 460.02,297.35 458.63,297.00 C457.25,296.65 456.43,296.54 455.86,294.93 C455.30,293.32 455.30,290.44 455.25,287.34 C455.20,284.23 455.35,279.41 455.56,276.30 C455.76,273.19 455.97,270.66 456.48,268.71 C456.99,266.75 457.94,265.61 458.63,264.57 C459.33,263.53 460.08,262.85 460.66,262.50 C461.25,262.15 461.55,262.15 462.14,262.50 Z" fill="url(#mb)" filter="url(#bl2)"/>
<path d="M473.01,295 L469.32,300.5 M480.39,295 L484.08,300.5" stroke="#8a8a8a" stroke-width="0.9" fill="none"/>
<path d="M476.7,297 Q476.7,311.8 476.7,326.6" stroke="#c8c8c8" stroke-width="1.05" fill="none"/>
<path d="M477.44,262.50 C478.02,262.85 478.77,263.53 479.47,264.57 C480.16,265.61 481.11,266.75 481.62,268.71 C482.13,270.66 482.34,273.19 482.54,276.30 C482.75,279.41 482.90,284.23 482.85,287.34 C482.80,290.44 482.80,293.32 482.24,294.93 C481.67,296.54 480.85,296.65 479.47,297.00 C478.08,297.35 475.32,297.35 473.93,297.00 C472.55,296.65 471.73,296.54 471.16,294.93 C470.60,293.32 470.60,290.44 470.55,287.34 C470.50,284.23 470.65,279.41 470.86,276.30 C471.06,273.19 471.27,270.66 471.78,268.71 C472.29,266.75 473.24,265.61 473.93,264.57 C474.63,263.53 475.38,262.85 475.96,262.50 C476.55,262.15 476.85,262.15 477.44,262.50 Z" fill="url(#mb)" filter="url(#bl2)"/>
<ellipse cx="413.3" cy="291.5" rx="3" ry="2.5" fill="#1030e0" filter="url(#bl)"/>
<ellipse cx="424.5" cy="289.7" rx="2" ry="2" fill="#2050e0" filter="url(#bl)"/>
<ellipse cx="428" cy="287" rx="2" ry="2" fill="#20b0e0" filter="url(#bl)"/>
<ellipse cx="443" cy="288.7" rx="3" ry="2" fill="#1030e0" filter="url(#bl)"/>
<ellipse cx="472.6" cy="286.6" rx="2" ry="2.5" fill="#f01414" filter="url(#bl)"/>
<ellipse cx="476.7" cy="289.7" rx="2.5" ry="2.5" fill="#2050e0" filter="url(#bl)"/>
<ellipse cx="476" cy="284" rx="1.5" ry="1.5" fill="#20b0e0" filter="url(#bl)"/>
</g>
<defs><linearGradient id="cb" x1="0" y1="0" x2="0" y2="1"><stop offset="0" stop-color="#a00010"/><stop offset="0.04" stop-color="#e01818"/><stop offset="0.15" stop-color="#f05020"/><stop offset="0.25" stop-color="#f0a020"/><stop offset="0.32" stop-color="#e8e020"/><stop offset="0.42" stop-color="#90e030"/><stop offset="0.5" stop-color="#30e040"/><stop offset="0.6" stop-color="#20d090"/><stop offset="0.68" stop-color="#10c8d8"/><stop offset="0.78" stop-color="#2070f0"/><stop offset="0.88" stop-color="#2030e0"/><stop offset="1" stop-color="#5010c0"/></linearGradient></defs>
<rect x="491.3" y="107" width="6" height="133.5" fill="url(#cb)" />
<line x1="497.3" y1="108.7" x2="498.8" y2="108.7" stroke="#444" stroke-width="0.5" />
<line x1="497.3" y1="112.8" x2="498.8" y2="112.8" stroke="#444" stroke-width="0.5" />
<line x1="497.3" y1="116.89999999999999" x2="498.8" y2="116.89999999999999" stroke="#444" stroke-width="0.5" />
<line x1="497.3" y1="120.99999999999999" x2="498.8" y2="120.99999999999999" stroke="#444" stroke-width="0.5" />
<line x1="497.3" y1="125.09999999999998" x2="498.8" y2="125.09999999999998" stroke="#444" stroke-width="0.5" />
<line x1="497.3" y1="129.2" x2="498.8" y2="129.2" stroke="#444" stroke-width="0.5" />
<line x1="497.3" y1="133.29999999999998" x2="498.8" y2="133.29999999999998" stroke="#444" stroke-width="0.5" />
<line x1="497.3" y1="137.39999999999998" x2="498.8" y2="137.39999999999998" stroke="#444" stroke-width="0.5" />
<line x1="497.3" y1="141.49999999999997" x2="498.8" y2="141.49999999999997" stroke="#444" stroke-width="0.5" />
<line x1="497.3" y1="145.59999999999997" x2="498.8" y2="145.59999999999997" stroke="#444" stroke-width="0.5" />
<line x1="497.3" y1="149.69999999999996" x2="498.8" y2="149.69999999999996" stroke="#444" stroke-width="0.5" />
<line x1="497.3" y1="153.79999999999995" x2="498.8" y2="153.79999999999995" stroke="#444" stroke-width="0.5" />
<line x1="497.3" y1="157.89999999999995" x2="498.8" y2="157.89999999999995" stroke="#444" stroke-width="0.5" />
<line x1="497.3" y1="161.99999999999994" x2="498.8" y2="161.99999999999994" stroke="#444" stroke-width="0.5" />
<line x1="497.3" y1="166.09999999999994" x2="498.8" y2="166.09999999999994" stroke="#444" stroke-width="0.5" />
<line x1="497.3" y1="170.19999999999993" x2="498.8" y2="170.19999999999993" stroke="#444" stroke-width="0.5" />
<line x1="497.3" y1="174.29999999999993" x2="498.8" y2="174.29999999999993" stroke="#444" stroke-width="0.5" />
<line x1="497.3" y1="178.39999999999992" x2="498.8" y2="178.39999999999992" stroke="#444" stroke-width="0.5" />
<line x1="497.3" y1="182.49999999999991" x2="498.8" y2="182.49999999999991" stroke="#444" stroke-width="0.5" />
<line x1="497.3" y1="186.5999999999999" x2="498.8" y2="186.5999999999999" stroke="#444" stroke-width="0.5" />
<line x1="497.3" y1="190.6999999999999" x2="498.8" y2="190.6999999999999" stroke="#444" stroke-width="0.5" />
<line x1="497.3" y1="194.7999999999999" x2="498.8" y2="194.7999999999999" stroke="#444" stroke-width="0.5" />
<line x1="497.3" y1="198.8999999999999" x2="498.8" y2="198.8999999999999" stroke="#444" stroke-width="0.5" />
<line x1="497.3" y1="202.9999999999999" x2="498.8" y2="202.9999999999999" stroke="#444" stroke-width="0.5" />
<line x1="497.3" y1="207.09999999999988" x2="498.8" y2="207.09999999999988" stroke="#444" stroke-width="0.5" />
<line x1="497.3" y1="211.19999999999987" x2="498.8" y2="211.19999999999987" stroke="#444" stroke-width="0.5" />
<line x1="497.3" y1="215.29999999999987" x2="498.8" y2="215.29999999999987" stroke="#444" stroke-width="0.5" />
<line x1="497.3" y1="219.39999999999986" x2="498.8" y2="219.39999999999986" stroke="#444" stroke-width="0.5" />
<line x1="497.3" y1="223.49999999999986" x2="498.8" y2="223.49999999999986" stroke="#444" stroke-width="0.5" />
<line x1="497.3" y1="227.59999999999985" x2="498.8" y2="227.59999999999985" stroke="#444" stroke-width="0.5" />
<line x1="497.3" y1="231.69999999999985" x2="498.8" y2="231.69999999999985" stroke="#444" stroke-width="0.5" />
<line x1="497.3" y1="235.79999999999984" x2="498.8" y2="235.79999999999984" stroke="#444" stroke-width="0.5" />
<text x="491.5" y="101.5" font-size="4.6" font-weight="normal" text-anchor="start" fill="#000" stroke="#000" stroke-width="0.22" textLength="24.5" lengthAdjust="spacingAndGlyphs" >Luminescence</text>
<line x1="497.3" y1="108.7" x2="500" y2="108.7" stroke="#222" stroke-width="0.6" />
<text x="502" y="110.3" font-size="4.6" font-weight="normal" text-anchor="start" fill="#000" stroke="#000" stroke-width="0.22" >2.0</text>
<line x1="497.3" y1="128.4" x2="500" y2="128.4" stroke="#222" stroke-width="0.6" />
<text x="502" y="130.0" font-size="4.6" font-weight="normal" text-anchor="start" fill="#000" stroke="#000" stroke-width="0.22" >1.8</text>
<line x1="497.3" y1="148.3" x2="500" y2="148.3" stroke="#222" stroke-width="0.6" />
<text x="502" y="149.9" font-size="4.6" font-weight="normal" text-anchor="start" fill="#000" stroke="#000" stroke-width="0.22" >1.6</text>
<line x1="497.3" y1="168.8" x2="500" y2="168.8" stroke="#222" stroke-width="0.6" />
<text x="502" y="170.4" font-size="4.6" font-weight="normal" text-anchor="start" fill="#000" stroke="#000" stroke-width="0.22" >1.4</text>
<line x1="497.3" y1="189.2" x2="500" y2="189.2" stroke="#222" stroke-width="0.6" />
<text x="502" y="190.79999999999998" font-size="4.6" font-weight="normal" text-anchor="start" fill="#000" stroke="#000" stroke-width="0.22" >1.2</text>
<line x1="497.3" y1="209.6" x2="500" y2="209.6" stroke="#222" stroke-width="0.6" />
<text x="502" y="211.2" font-size="4.6" font-weight="normal" text-anchor="start" fill="#000" stroke="#000" stroke-width="0.22" >1.0</text>
<line x1="497.3" y1="229.3" x2="500" y2="229.3" stroke="#222" stroke-width="0.6" />
<text x="502" y="230.9" font-size="4.6" font-weight="normal" text-anchor="start" fill="#000" stroke="#000" stroke-width="0.22" >0.8</text>
<text x="510.5" y="174.5" font-size="3.8" font-weight="normal" text-anchor="start" fill="#000" stroke="#000" stroke-width="0.22" >x10</text>
<text x="491.5" y="253" font-size="4.4" font-weight="normal" text-anchor="start" fill="#000" stroke="#000" stroke-width="0.22" textLength="14" lengthAdjust="spacingAndGlyphs" >Radiance</text>
<text x="491.5" y="258.2" font-size="4.4" font-weight="normal" text-anchor="start" fill="#000" stroke="#000" stroke-width="0.22" textLength="26" lengthAdjust="spacingAndGlyphs" >(p/sec/cm²/sr)</text>
<rect x="491.6" y="262.8" width="26.4" height="17.2" fill="#fff" stroke="#222" stroke-width="0.6"/>
<text x="493" y="268.3" font-size="4.6" font-weight="normal" text-anchor="start" fill="#000" stroke="#000" stroke-width="0.22" textLength="18" lengthAdjust="spacingAndGlyphs" >Color Scale</text>
<text x="493" y="273.1" font-size="4.6" font-weight="normal" text-anchor="start" fill="#000" stroke="#000" stroke-width="0.22" textLength="22.5" lengthAdjust="spacingAndGlyphs" >Min = 6.93e7</text>
<text x="493" y="278" font-size="4.6" font-weight="normal" text-anchor="start" fill="#000" stroke="#000" stroke-width="0.22" textLength="22.5" lengthAdjust="spacingAndGlyphs" >Max = 2.02e8</text>
</svg>
</body></html>
